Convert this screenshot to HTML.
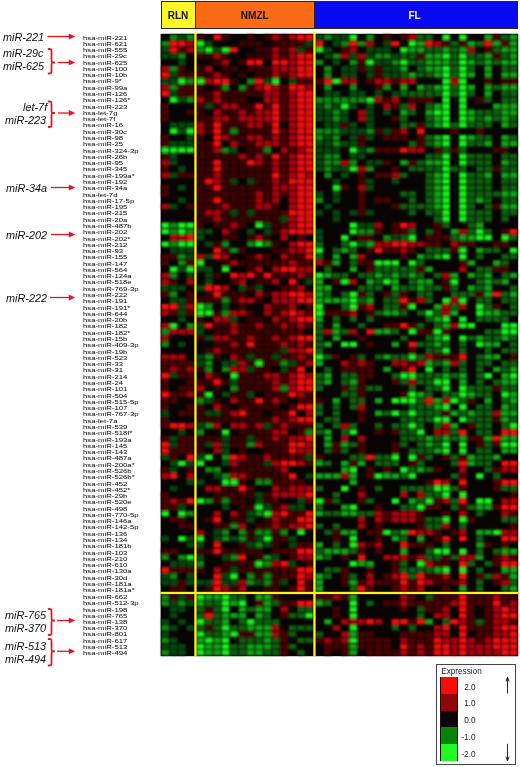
<!DOCTYPE html>
<html><head><meta charset="utf-8"><title>Heatmap</title>
<style>
html,body{margin:0;padding:0;background:#fff;}
body{width:520px;height:767px;position:relative;overflow:hidden;font-family:"Liberation Sans",sans-serif;}
.l{position:absolute;left:82.8px;font-size:5.6px;line-height:8px;height:8px;color:#000;white-space:nowrap;transform:scaleX(1.385);transform-origin:0 0}
.it{position:absolute;font-style:italic;transform:scaleX(0.955);transform-origin:0 0;font-size:11.4px;line-height:15px;height:15px;color:#111;white-space:nowrap}
.hdr{position:absolute;top:1.2px;height:27.5px;border:1px solid #33240c;border-bottom-width:1.3px;box-sizing:border-box;font-weight:bold;font-size:10px;line-height:27.4px;text-align:center;color:#111}
.lg{position:absolute;left:436.3px;top:664.2px;width:79.3px;height:100.8px;border:1px solid #444;box-sizing:border-box;background:transparent}
.lt{position:absolute;font-size:8.2px;line-height:10px;color:#222;white-space:nowrap}
.sw{position:absolute;left:440.8px;width:16.7px;height:16.75px}
</style></head><body>
<div class="hdr" style="left:160.5px;width:35px;background:#fbf82a">RLN</div>
<div class="hdr" style="left:194.5px;width:120.5px;background:#fb6a14">NMZL</div>
<div class="hdr" style="left:314px;width:204px;background:#0a0af2;color:#fff"><span style="position:absolute;left:93.5px;top:0">FL</span></div>
<svg width="520" height="767" viewBox="0 0 520 767" style="position:absolute;left:0;top:0"><defs><filter id="b" x="-1%" y="-1%" width="102%" height="102%"><feGaussianBlur stdDeviation="0.8"/></filter></defs><rect x="160.6" y="33.8" width="357.6" height="622.4" fill="#080404"/><g filter="url(#b)"><path fill="#0b8c10" d="M169.9,34.6h7.4v5.4h-7.4zM186.6,34.6h7.4v5.4h-7.4zM324.2,34.6h7.4v5.4h-7.4zM366.4,34.6h7.4v5.4h-7.4zM161.5,40.9h7.4v5.4h-7.4zM341.1,40.9h7.4v5.4h-7.4zM358.0,40.9h7.4v5.4h-7.4zM196.8,47.2h7.4v5.4h-7.4zM178.2,53.4h7.4v5.4h-7.4zM332.7,53.4h7.4v5.4h-7.4zM374.9,53.4h7.4v5.4h-7.4zM383.3,53.4h7.4v5.4h-7.4zM315.8,59.7h7.4v5.4h-7.4zM349.6,59.7h7.4v5.4h-7.4zM391.7,59.7h7.4v5.4h-7.4zM169.9,66.0h7.4v5.4h-7.4zM324.2,66.0h7.4v5.4h-7.4zM324.2,72.2h7.4v5.4h-7.4zM186.6,78.5h7.4v5.4h-7.4zM247.0,78.5h7.4v5.4h-7.4zM169.9,84.8h7.4v5.4h-7.4zM221.9,84.8h7.4v5.4h-7.4zM238.7,84.8h7.4v5.4h-7.4zM324.2,84.8h7.4v5.4h-7.4zM349.6,84.8h7.4v5.4h-7.4zM383.3,84.8h7.4v5.4h-7.4zM186.6,97.3h7.4v5.4h-7.4zM315.8,97.3h7.4v5.4h-7.4zM324.2,97.3h7.4v5.4h-7.4zM332.7,97.3h7.4v5.4h-7.4zM341.1,97.3h7.4v5.4h-7.4zM349.6,97.3h7.4v5.4h-7.4zM358.0,97.3h7.4v5.4h-7.4zM324.2,103.5h7.4v5.4h-7.4zM332.7,109.8h7.4v5.4h-7.4zM332.7,116.1h7.4v5.4h-7.4zM230.3,128.6h7.4v5.4h-7.4zM315.8,128.6h7.4v5.4h-7.4zM324.2,128.6h7.4v5.4h-7.4zM332.7,128.6h7.4v5.4h-7.4zM366.4,128.6h7.4v5.4h-7.4zM315.8,134.9h7.4v5.4h-7.4zM332.7,134.9h7.4v5.4h-7.4zM332.7,141.1h7.4v5.4h-7.4zM221.9,147.4h7.4v5.4h-7.4zM263.8,147.4h7.4v5.4h-7.4zM366.4,147.4h7.4v5.4h-7.4zM324.2,153.7h7.4v5.4h-7.4zM332.7,153.7h7.4v5.4h-7.4zM324.2,159.9h7.4v5.4h-7.4zM332.7,159.9h7.4v5.4h-7.4zM349.6,159.9h7.4v5.4h-7.4zM324.2,166.2h7.4v5.4h-7.4zM366.4,166.2h7.4v5.4h-7.4zM324.2,172.5h7.4v5.4h-7.4zM315.8,197.5h7.4v5.4h-7.4zM169.9,222.6h7.4v5.4h-7.4zM169.9,228.9h7.4v5.4h-7.4zM186.6,228.9h7.4v5.4h-7.4zM358.0,228.9h7.4v5.4h-7.4zM366.4,228.9h7.4v5.4h-7.4zM383.3,235.1h7.4v5.4h-7.4zM169.9,241.4h7.4v5.4h-7.4zM221.9,241.4h7.4v5.4h-7.4zM247.0,241.4h7.4v5.4h-7.4zM263.8,241.4h7.4v5.4h-7.4zM230.3,247.7h7.4v5.4h-7.4zM178.2,253.9h7.4v5.4h-7.4zM178.2,260.2h7.4v5.4h-7.4zM169.9,272.7h7.4v5.4h-7.4zM169.9,291.5h7.4v5.4h-7.4zM221.9,297.8h7.4v5.4h-7.4zM205.2,304.1h7.4v5.4h-7.4zM221.9,310.3h7.4v5.4h-7.4zM186.6,322.9h7.4v5.4h-7.4zM161.5,329.1h7.4v5.4h-7.4zM161.5,341.7h7.4v5.4h-7.4zM205.2,354.2h7.4v5.4h-7.4zM205.2,360.5h7.4v5.4h-7.4zM280.5,360.5h7.4v5.4h-7.4zM205.2,366.7h7.4v5.4h-7.4zM221.9,366.7h7.4v5.4h-7.4zM230.3,385.5h7.4v5.4h-7.4zM280.5,385.5h7.4v5.4h-7.4zM196.8,398.1h7.4v5.4h-7.4zM205.2,423.1h7.4v5.4h-7.4zM196.8,429.4h7.4v5.4h-7.4zM305.6,429.4h7.4v5.4h-7.4zM247.0,441.9h7.4v5.4h-7.4zM221.9,454.5h7.4v5.4h-7.4zM205.2,467.0h7.4v5.4h-7.4zM213.5,467.0h7.4v5.4h-7.4zM221.9,473.3h7.4v5.4h-7.4zM255.4,479.5h7.4v5.4h-7.4zM263.8,479.5h7.4v5.4h-7.4zM205.2,498.3h7.4v5.4h-7.4zM221.9,498.3h7.4v5.4h-7.4zM186.6,510.9h7.4v5.4h-7.4zM255.4,510.9h7.4v5.4h-7.4zM230.3,523.4h7.4v5.4h-7.4zM221.9,529.7h7.4v5.4h-7.4zM238.7,529.7h7.4v5.4h-7.4zM255.4,529.7h7.4v5.4h-7.4zM263.8,529.7h7.4v5.4h-7.4zM280.5,529.7h7.4v5.4h-7.4zM221.9,535.9h7.4v5.4h-7.4zM238.7,535.9h7.4v5.4h-7.4zM255.4,542.2h7.4v5.4h-7.4zM161.5,554.7h7.4v5.4h-7.4zM178.2,554.7h7.4v5.4h-7.4zM230.3,554.7h7.4v5.4h-7.4zM263.8,554.7h7.4v5.4h-7.4zM196.8,561.0h7.4v5.4h-7.4zM263.8,561.0h7.4v5.4h-7.4zM169.9,573.5h7.4v5.4h-7.4zM247.0,573.5h7.4v5.4h-7.4zM263.8,573.5h7.4v5.4h-7.4zM247.0,579.8h7.4v5.4h-7.4zM263.8,579.8h7.4v5.4h-7.4zM161.5,594.4h7.4v5.3h-7.4zM161.5,600.6h7.4v5.3h-7.4zM178.2,600.6h7.4v5.3h-7.4zM161.5,625.3h7.4v5.3h-7.4zM161.5,637.7h7.4v5.3h-7.4zM161.5,650.0h7.4v5.3h-7.4z"/><path fill="#054a08" d="M178.2,34.6h7.4v5.4h-7.4zM315.8,34.6h7.4v5.4h-7.4zM332.7,34.6h7.4v5.4h-7.4zM341.1,34.6h7.4v5.4h-7.4zM205.2,40.9h7.4v5.4h-7.4zM305.6,40.9h7.4v5.4h-7.4zM332.7,40.9h7.4v5.4h-7.4zM383.3,40.9h7.4v5.4h-7.4zM161.5,47.2h7.4v5.4h-7.4zM213.5,47.2h7.4v5.4h-7.4zM297.3,47.2h7.4v5.4h-7.4zM324.2,47.2h7.4v5.4h-7.4zM366.4,47.2h7.4v5.4h-7.4zM374.9,47.2h7.4v5.4h-7.4zM383.3,47.2h7.4v5.4h-7.4zM161.5,53.4h7.4v5.4h-7.4zM169.9,53.4h7.4v5.4h-7.4zM324.2,53.4h7.4v5.4h-7.4zM349.6,53.4h7.4v5.4h-7.4zM366.4,53.4h7.4v5.4h-7.4zM391.7,53.4h7.4v5.4h-7.4zM178.2,59.7h7.4v5.4h-7.4zM332.7,59.7h7.4v5.4h-7.4zM374.9,59.7h7.4v5.4h-7.4zM383.3,59.7h7.4v5.4h-7.4zM341.1,66.0h7.4v5.4h-7.4zM349.6,66.0h7.4v5.4h-7.4zM366.4,66.0h7.4v5.4h-7.4zM383.3,66.0h7.4v5.4h-7.4zM391.7,66.0h7.4v5.4h-7.4zM169.9,72.2h7.4v5.4h-7.4zM341.1,72.2h7.4v5.4h-7.4zM349.6,72.2h7.4v5.4h-7.4zM366.4,72.2h7.4v5.4h-7.4zM383.3,72.2h7.4v5.4h-7.4zM391.7,72.2h7.4v5.4h-7.4zM161.5,78.5h7.4v5.4h-7.4zM169.9,78.5h7.4v5.4h-7.4zM263.8,78.5h7.4v5.4h-7.4zM288.9,78.5h7.4v5.4h-7.4zM169.9,91.0h7.4v5.4h-7.4zM324.2,91.0h7.4v5.4h-7.4zM332.7,91.0h7.4v5.4h-7.4zM349.6,91.0h7.4v5.4h-7.4zM358.0,91.0h7.4v5.4h-7.4zM374.9,91.0h7.4v5.4h-7.4zM391.7,91.0h7.4v5.4h-7.4zM178.2,97.3h7.4v5.4h-7.4zM205.2,103.5h7.4v5.4h-7.4zM315.8,103.5h7.4v5.4h-7.4zM332.7,103.5h7.4v5.4h-7.4zM349.6,103.5h7.4v5.4h-7.4zM366.4,103.5h7.4v5.4h-7.4zM315.8,109.8h7.4v5.4h-7.4zM324.2,109.8h7.4v5.4h-7.4zM341.1,109.8h7.4v5.4h-7.4zM366.4,109.8h7.4v5.4h-7.4zM383.3,109.8h7.4v5.4h-7.4zM315.8,116.1h7.4v5.4h-7.4zM324.2,116.1h7.4v5.4h-7.4zM341.1,116.1h7.4v5.4h-7.4zM366.4,116.1h7.4v5.4h-7.4zM169.9,122.3h7.4v5.4h-7.4zM178.2,122.3h7.4v5.4h-7.4zM186.6,122.3h7.4v5.4h-7.4zM324.2,122.3h7.4v5.4h-7.4zM332.7,122.3h7.4v5.4h-7.4zM349.6,122.3h7.4v5.4h-7.4zM366.4,122.3h7.4v5.4h-7.4zM178.2,128.6h7.4v5.4h-7.4zM341.1,128.6h7.4v5.4h-7.4zM349.6,128.6h7.4v5.4h-7.4zM358.0,128.6h7.4v5.4h-7.4zM383.3,128.6h7.4v5.4h-7.4zM186.6,134.9h7.4v5.4h-7.4zM324.2,134.9h7.4v5.4h-7.4zM349.6,134.9h7.4v5.4h-7.4zM366.4,134.9h7.4v5.4h-7.4zM169.9,141.1h7.4v5.4h-7.4zM178.2,141.1h7.4v5.4h-7.4zM186.6,141.1h7.4v5.4h-7.4zM315.8,141.1h7.4v5.4h-7.4zM324.2,141.1h7.4v5.4h-7.4zM341.1,141.1h7.4v5.4h-7.4zM349.6,141.1h7.4v5.4h-7.4zM230.3,147.4h7.4v5.4h-7.4zM315.8,147.4h7.4v5.4h-7.4zM324.2,147.4h7.4v5.4h-7.4zM332.7,147.4h7.4v5.4h-7.4zM358.0,147.4h7.4v5.4h-7.4zM169.9,153.7h7.4v5.4h-7.4zM315.8,153.7h7.4v5.4h-7.4zM349.6,153.7h7.4v5.4h-7.4zM358.0,153.7h7.4v5.4h-7.4zM169.9,159.9h7.4v5.4h-7.4zM315.8,159.9h7.4v5.4h-7.4zM366.4,159.9h7.4v5.4h-7.4zM374.9,159.9h7.4v5.4h-7.4zM178.2,166.2h7.4v5.4h-7.4zM315.8,166.2h7.4v5.4h-7.4zM332.7,166.2h7.4v5.4h-7.4zM341.1,166.2h7.4v5.4h-7.4zM169.9,172.5h7.4v5.4h-7.4zM341.1,172.5h7.4v5.4h-7.4zM230.3,178.7h7.4v5.4h-7.4zM247.0,178.7h7.4v5.4h-7.4zM332.7,178.7h7.4v5.4h-7.4zM366.4,178.7h7.4v5.4h-7.4zM391.7,178.7h7.4v5.4h-7.4zM178.2,185.0h7.4v5.4h-7.4zM366.4,185.0h7.4v5.4h-7.4zM315.8,191.3h7.4v5.4h-7.4zM332.7,191.3h7.4v5.4h-7.4zM178.2,197.5h7.4v5.4h-7.4zM332.7,197.5h7.4v5.4h-7.4zM169.9,203.8h7.4v5.4h-7.4zM324.2,203.8h7.4v5.4h-7.4zM230.3,210.1h7.4v5.4h-7.4zM247.0,210.1h7.4v5.4h-7.4zM315.8,210.1h7.4v5.4h-7.4zM332.7,210.1h7.4v5.4h-7.4zM349.6,210.1h7.4v5.4h-7.4zM366.4,210.1h7.4v5.4h-7.4zM280.5,216.3h7.4v5.4h-7.4zM332.7,216.3h7.4v5.4h-7.4zM263.8,222.6h7.4v5.4h-7.4zM358.0,222.6h7.4v5.4h-7.4zM366.4,222.6h7.4v5.4h-7.4zM196.8,228.9h7.4v5.4h-7.4zM205.2,228.9h7.4v5.4h-7.4zM247.0,228.9h7.4v5.4h-7.4zM263.8,228.9h7.4v5.4h-7.4zM315.8,228.9h7.4v5.4h-7.4zM196.8,235.1h7.4v5.4h-7.4zM315.8,235.1h7.4v5.4h-7.4zM391.7,235.1h7.4v5.4h-7.4zM205.2,241.4h7.4v5.4h-7.4zM169.9,247.7h7.4v5.4h-7.4zM178.2,247.7h7.4v5.4h-7.4zM186.6,247.7h7.4v5.4h-7.4zM186.6,253.9h7.4v5.4h-7.4zM205.2,253.9h7.4v5.4h-7.4zM178.2,266.5h7.4v5.4h-7.4zM196.8,266.5h7.4v5.4h-7.4zM205.2,266.5h7.4v5.4h-7.4zM186.6,272.7h7.4v5.4h-7.4zM205.2,272.7h7.4v5.4h-7.4zM205.2,279.0h7.4v5.4h-7.4zM305.6,279.0h7.4v5.4h-7.4zM161.5,285.3h7.4v5.4h-7.4zM169.9,285.3h7.4v5.4h-7.4zM178.2,285.3h7.4v5.4h-7.4zM196.8,285.3h7.4v5.4h-7.4zM238.7,285.3h7.4v5.4h-7.4zM255.4,285.3h7.4v5.4h-7.4zM169.9,297.8h7.4v5.4h-7.4zM178.2,297.8h7.4v5.4h-7.4zM178.2,304.1h7.4v5.4h-7.4zM221.9,304.1h7.4v5.4h-7.4zM178.2,310.3h7.4v5.4h-7.4zM178.2,316.6h7.4v5.4h-7.4zM230.3,316.6h7.4v5.4h-7.4zM196.8,322.9h7.4v5.4h-7.4zM196.8,329.1h7.4v5.4h-7.4zM205.2,335.4h7.4v5.4h-7.4zM178.2,341.7h7.4v5.4h-7.4zM280.5,347.9h7.4v5.4h-7.4zM196.8,354.2h7.4v5.4h-7.4zM247.0,354.2h7.4v5.4h-7.4zM272.1,354.2h7.4v5.4h-7.4zM196.8,360.5h7.4v5.4h-7.4zM221.9,360.5h7.4v5.4h-7.4zM230.3,360.5h7.4v5.4h-7.4zM288.9,360.5h7.4v5.4h-7.4zM247.0,366.7h7.4v5.4h-7.4zM280.5,366.7h7.4v5.4h-7.4zM169.9,373.0h7.4v5.4h-7.4zM230.3,379.3h7.4v5.4h-7.4zM221.9,391.8h7.4v5.4h-7.4zM247.0,391.8h7.4v5.4h-7.4zM205.2,398.1h7.4v5.4h-7.4zM161.5,410.6h7.4v5.4h-7.4zM205.2,410.6h7.4v5.4h-7.4zM213.5,410.6h7.4v5.4h-7.4zM196.8,423.1h7.4v5.4h-7.4zM263.8,423.1h7.4v5.4h-7.4zM178.2,429.4h7.4v5.4h-7.4zM169.9,435.7h7.4v5.4h-7.4zM221.9,435.7h7.4v5.4h-7.4zM247.0,435.7h7.4v5.4h-7.4zM169.9,441.9h7.4v5.4h-7.4zM205.2,441.9h7.4v5.4h-7.4zM221.9,441.9h7.4v5.4h-7.4zM221.9,448.2h7.4v5.4h-7.4zM161.5,454.5h7.4v5.4h-7.4zM196.8,454.5h7.4v5.4h-7.4zM305.6,454.5h7.4v5.4h-7.4zM169.9,460.7h7.4v5.4h-7.4zM186.6,460.7h7.4v5.4h-7.4zM221.9,460.7h7.4v5.4h-7.4zM263.8,460.7h7.4v5.4h-7.4zM169.9,467.0h7.4v5.4h-7.4zM213.5,473.3h7.4v5.4h-7.4zM305.6,473.3h7.4v5.4h-7.4zM186.6,479.5h7.4v5.4h-7.4zM196.8,479.5h7.4v5.4h-7.4zM169.9,485.8h7.4v5.4h-7.4zM255.4,492.1h7.4v5.4h-7.4zM255.4,498.3h7.4v5.4h-7.4zM297.3,498.3h7.4v5.4h-7.4zM178.2,504.6h7.4v5.4h-7.4zM221.9,504.6h7.4v5.4h-7.4zM263.8,504.6h7.4v5.4h-7.4zM288.9,504.6h7.4v5.4h-7.4zM297.3,504.6h7.4v5.4h-7.4zM247.0,510.9h7.4v5.4h-7.4zM247.0,517.1h7.4v5.4h-7.4zM213.5,529.7h7.4v5.4h-7.4zM161.5,535.9h7.4v5.4h-7.4zM186.6,535.9h7.4v5.4h-7.4zM213.5,535.9h7.4v5.4h-7.4zM230.3,535.9h7.4v5.4h-7.4zM255.4,535.9h7.4v5.4h-7.4zM288.9,535.9h7.4v5.4h-7.4zM186.6,542.2h7.4v5.4h-7.4zM196.8,542.2h7.4v5.4h-7.4zM247.0,542.2h7.4v5.4h-7.4zM263.8,542.2h7.4v5.4h-7.4zM288.9,542.2h7.4v5.4h-7.4zM196.8,554.7h7.4v5.4h-7.4zM221.9,554.7h7.4v5.4h-7.4zM272.1,554.7h7.4v5.4h-7.4zM169.9,561.0h7.4v5.4h-7.4zM178.2,561.0h7.4v5.4h-7.4zM186.6,561.0h7.4v5.4h-7.4zM288.9,561.0h7.4v5.4h-7.4zM230.3,567.3h7.4v5.4h-7.4zM161.5,573.5h7.4v5.4h-7.4zM186.6,573.5h7.4v5.4h-7.4zM221.9,573.5h7.4v5.4h-7.4zM161.5,579.8h7.4v5.4h-7.4zM169.9,579.8h7.4v5.4h-7.4zM186.6,579.8h7.4v5.4h-7.4zM196.8,579.8h7.4v5.4h-7.4zM205.2,579.8h7.4v5.4h-7.4zM221.9,579.8h7.4v5.4h-7.4zM230.3,579.8h7.4v5.4h-7.4zM255.4,579.8h7.4v5.4h-7.4zM280.5,579.8h7.4v5.4h-7.4zM178.2,594.4h7.4v5.3h-7.4zM169.9,600.6h7.4v5.3h-7.4zM186.6,600.6h7.4v5.3h-7.4zM169.9,606.8h7.4v5.3h-7.4zM178.2,606.8h7.4v5.3h-7.4zM169.9,613.0h7.4v5.3h-7.4zM161.5,619.1h7.4v5.3h-7.4zM178.2,619.1h7.4v5.3h-7.4zM169.9,625.3h7.4v5.3h-7.4zM186.6,625.3h7.4v5.3h-7.4zM161.5,631.5h7.4v5.3h-7.4zM169.9,637.7h7.4v5.3h-7.4zM161.5,643.9h7.4v5.3h-7.4zM169.9,643.9h7.4v5.3h-7.4zM178.2,643.9h7.4v5.3h-7.4zM169.9,650.0h7.4v5.3h-7.4zM178.2,650.0h7.4v5.3h-7.4z"/><path fill="#3c0204" d="M196.8,34.6h7.4v5.4h-7.4zM221.9,34.6h7.4v5.4h-7.4zM247.0,34.6h7.4v5.4h-7.4zM263.8,34.6h7.4v5.4h-7.4zM238.7,40.9h7.4v5.4h-7.4zM247.0,40.9h7.4v5.4h-7.4zM255.4,40.9h7.4v5.4h-7.4zM272.1,40.9h7.4v5.4h-7.4zM255.4,47.2h7.4v5.4h-7.4zM263.8,47.2h7.4v5.4h-7.4zM196.8,53.4h7.4v5.4h-7.4zM205.2,53.4h7.4v5.4h-7.4zM221.9,53.4h7.4v5.4h-7.4zM247.0,53.4h7.4v5.4h-7.4zM255.4,53.4h7.4v5.4h-7.4zM263.8,53.4h7.4v5.4h-7.4zM213.5,59.7h7.4v5.4h-7.4zM238.7,59.7h7.4v5.4h-7.4zM196.8,66.0h7.4v5.4h-7.4zM221.9,66.0h7.4v5.4h-7.4zM230.3,66.0h7.4v5.4h-7.4zM247.0,66.0h7.4v5.4h-7.4zM255.4,66.0h7.4v5.4h-7.4zM263.8,66.0h7.4v5.4h-7.4zM196.8,72.2h7.4v5.4h-7.4zM205.2,72.2h7.4v5.4h-7.4zM221.9,72.2h7.4v5.4h-7.4zM238.7,72.2h7.4v5.4h-7.4zM255.4,72.2h7.4v5.4h-7.4zM263.8,72.2h7.4v5.4h-7.4zM230.3,78.5h7.4v5.4h-7.4zM196.8,84.8h7.4v5.4h-7.4zM213.5,84.8h7.4v5.4h-7.4zM247.0,84.8h7.4v5.4h-7.4zM196.8,91.0h7.4v5.4h-7.4zM205.2,91.0h7.4v5.4h-7.4zM221.9,91.0h7.4v5.4h-7.4zM230.3,91.0h7.4v5.4h-7.4zM238.7,91.0h7.4v5.4h-7.4zM247.0,91.0h7.4v5.4h-7.4zM255.4,91.0h7.4v5.4h-7.4zM205.2,97.3h7.4v5.4h-7.4zM221.9,97.3h7.4v5.4h-7.4zM230.3,97.3h7.4v5.4h-7.4zM238.7,97.3h7.4v5.4h-7.4zM196.8,103.5h7.4v5.4h-7.4zM213.5,103.5h7.4v5.4h-7.4zM238.7,103.5h7.4v5.4h-7.4zM247.0,103.5h7.4v5.4h-7.4zM263.8,103.5h7.4v5.4h-7.4zM196.8,109.8h7.4v5.4h-7.4zM221.9,109.8h7.4v5.4h-7.4zM230.3,109.8h7.4v5.4h-7.4zM247.0,109.8h7.4v5.4h-7.4zM196.8,116.1h7.4v5.4h-7.4zM205.2,116.1h7.4v5.4h-7.4zM230.3,116.1h7.4v5.4h-7.4zM205.2,122.3h7.4v5.4h-7.4zM221.9,122.3h7.4v5.4h-7.4zM230.3,122.3h7.4v5.4h-7.4zM238.7,122.3h7.4v5.4h-7.4zM263.8,122.3h7.4v5.4h-7.4zM205.2,128.6h7.4v5.4h-7.4zM221.9,128.6h7.4v5.4h-7.4zM238.7,128.6h7.4v5.4h-7.4zM247.0,128.6h7.4v5.4h-7.4zM255.4,128.6h7.4v5.4h-7.4zM263.8,128.6h7.4v5.4h-7.4zM196.8,134.9h7.4v5.4h-7.4zM230.3,134.9h7.4v5.4h-7.4zM238.7,134.9h7.4v5.4h-7.4zM263.8,134.9h7.4v5.4h-7.4zM196.8,141.1h7.4v5.4h-7.4zM205.2,141.1h7.4v5.4h-7.4zM238.7,141.1h7.4v5.4h-7.4zM247.0,141.1h7.4v5.4h-7.4zM196.8,147.4h7.4v5.4h-7.4zM205.2,147.4h7.4v5.4h-7.4zM247.0,147.4h7.4v5.4h-7.4zM255.4,147.4h7.4v5.4h-7.4zM196.8,153.7h7.4v5.4h-7.4zM205.2,153.7h7.4v5.4h-7.4zM213.5,153.7h7.4v5.4h-7.4zM221.9,153.7h7.4v5.4h-7.4zM230.3,153.7h7.4v5.4h-7.4zM247.0,153.7h7.4v5.4h-7.4zM263.8,153.7h7.4v5.4h-7.4zM196.8,159.9h7.4v5.4h-7.4zM205.2,159.9h7.4v5.4h-7.4zM221.9,159.9h7.4v5.4h-7.4zM230.3,159.9h7.4v5.4h-7.4zM238.7,159.9h7.4v5.4h-7.4zM263.8,159.9h7.4v5.4h-7.4zM196.8,166.2h7.4v5.4h-7.4zM205.2,166.2h7.4v5.4h-7.4zM221.9,166.2h7.4v5.4h-7.4zM230.3,166.2h7.4v5.4h-7.4zM238.7,166.2h7.4v5.4h-7.4zM247.0,166.2h7.4v5.4h-7.4zM255.4,166.2h7.4v5.4h-7.4zM263.8,166.2h7.4v5.4h-7.4zM196.8,172.5h7.4v5.4h-7.4zM205.2,172.5h7.4v5.4h-7.4zM221.9,172.5h7.4v5.4h-7.4zM230.3,172.5h7.4v5.4h-7.4zM238.7,172.5h7.4v5.4h-7.4zM247.0,172.5h7.4v5.4h-7.4zM255.4,172.5h7.4v5.4h-7.4zM263.8,172.5h7.4v5.4h-7.4zM196.8,178.7h7.4v5.4h-7.4zM221.9,178.7h7.4v5.4h-7.4zM255.4,178.7h7.4v5.4h-7.4zM263.8,178.7h7.4v5.4h-7.4zM196.8,185.0h7.4v5.4h-7.4zM205.2,185.0h7.4v5.4h-7.4zM221.9,185.0h7.4v5.4h-7.4zM230.3,185.0h7.4v5.4h-7.4zM238.7,185.0h7.4v5.4h-7.4zM247.0,185.0h7.4v5.4h-7.4zM255.4,185.0h7.4v5.4h-7.4zM263.8,185.0h7.4v5.4h-7.4zM196.8,191.3h7.4v5.4h-7.4zM205.2,191.3h7.4v5.4h-7.4zM213.5,191.3h7.4v5.4h-7.4zM221.9,191.3h7.4v5.4h-7.4zM230.3,191.3h7.4v5.4h-7.4zM238.7,191.3h7.4v5.4h-7.4zM247.0,191.3h7.4v5.4h-7.4zM263.8,191.3h7.4v5.4h-7.4zM196.8,197.5h7.4v5.4h-7.4zM205.2,197.5h7.4v5.4h-7.4zM221.9,197.5h7.4v5.4h-7.4zM230.3,197.5h7.4v5.4h-7.4zM238.7,197.5h7.4v5.4h-7.4zM247.0,197.5h7.4v5.4h-7.4zM263.8,197.5h7.4v5.4h-7.4zM196.8,203.8h7.4v5.4h-7.4zM205.2,203.8h7.4v5.4h-7.4zM213.5,203.8h7.4v5.4h-7.4zM230.3,203.8h7.4v5.4h-7.4zM238.7,203.8h7.4v5.4h-7.4zM247.0,203.8h7.4v5.4h-7.4zM272.1,203.8h7.4v5.4h-7.4zM196.8,210.1h7.4v5.4h-7.4zM221.9,210.1h7.4v5.4h-7.4zM238.7,210.1h7.4v5.4h-7.4zM255.4,210.1h7.4v5.4h-7.4zM263.8,210.1h7.4v5.4h-7.4zM272.1,210.1h7.4v5.4h-7.4zM196.8,216.3h7.4v5.4h-7.4zM205.2,216.3h7.4v5.4h-7.4zM221.9,216.3h7.4v5.4h-7.4zM230.3,216.3h7.4v5.4h-7.4zM238.7,216.3h7.4v5.4h-7.4zM247.0,216.3h7.4v5.4h-7.4zM255.4,216.3h7.4v5.4h-7.4zM263.8,216.3h7.4v5.4h-7.4zM272.1,216.3h7.4v5.4h-7.4zM196.8,222.6h7.4v5.4h-7.4zM213.5,222.6h7.4v5.4h-7.4zM221.9,222.6h7.4v5.4h-7.4zM238.7,222.6h7.4v5.4h-7.4zM272.1,222.6h7.4v5.4h-7.4zM230.3,228.9h7.4v5.4h-7.4zM272.1,228.9h7.4v5.4h-7.4zM221.9,235.1h7.4v5.4h-7.4zM230.3,235.1h7.4v5.4h-7.4zM247.0,235.1h7.4v5.4h-7.4zM263.8,235.1h7.4v5.4h-7.4zM213.5,241.4h7.4v5.4h-7.4zM272.1,241.4h7.4v5.4h-7.4zM221.9,247.7h7.4v5.4h-7.4zM238.7,247.7h7.4v5.4h-7.4zM272.1,247.7h7.4v5.4h-7.4zM247.0,253.9h7.4v5.4h-7.4zM263.8,253.9h7.4v5.4h-7.4zM221.9,260.2h7.4v5.4h-7.4zM238.7,260.2h7.4v5.4h-7.4zM247.0,260.2h7.4v5.4h-7.4zM255.4,260.2h7.4v5.4h-7.4zM263.8,260.2h7.4v5.4h-7.4zM272.1,260.2h7.4v5.4h-7.4zM247.0,266.5h7.4v5.4h-7.4zM213.5,272.7h7.4v5.4h-7.4zM255.4,272.7h7.4v5.4h-7.4zM272.1,272.7h7.4v5.4h-7.4zM230.3,279.0h7.4v5.4h-7.4zM255.4,279.0h7.4v5.4h-7.4zM263.8,279.0h7.4v5.4h-7.4zM247.0,285.3h7.4v5.4h-7.4zM205.2,291.5h7.4v5.4h-7.4zM221.9,291.5h7.4v5.4h-7.4zM230.3,291.5h7.4v5.4h-7.4zM238.7,291.5h7.4v5.4h-7.4zM263.8,291.5h7.4v5.4h-7.4zM196.8,297.8h7.4v5.4h-7.4zM205.2,297.8h7.4v5.4h-7.4zM213.5,297.8h7.4v5.4h-7.4zM230.3,297.8h7.4v5.4h-7.4zM255.4,297.8h7.4v5.4h-7.4zM238.7,304.1h7.4v5.4h-7.4zM272.1,304.1h7.4v5.4h-7.4zM213.5,310.3h7.4v5.4h-7.4zM247.0,310.3h7.4v5.4h-7.4zM272.1,310.3h7.4v5.4h-7.4zM196.8,316.6h7.4v5.4h-7.4zM247.0,316.6h7.4v5.4h-7.4zM255.4,316.6h7.4v5.4h-7.4zM213.5,322.9h7.4v5.4h-7.4zM221.9,322.9h7.4v5.4h-7.4zM238.7,322.9h7.4v5.4h-7.4zM247.0,322.9h7.4v5.4h-7.4zM263.8,322.9h7.4v5.4h-7.4zM272.1,322.9h7.4v5.4h-7.4zM213.5,329.1h7.4v5.4h-7.4zM221.9,329.1h7.4v5.4h-7.4zM238.7,329.1h7.4v5.4h-7.4zM247.0,329.1h7.4v5.4h-7.4zM255.4,329.1h7.4v5.4h-7.4zM263.8,329.1h7.4v5.4h-7.4zM272.1,329.1h7.4v5.4h-7.4zM196.8,335.4h7.4v5.4h-7.4zM230.3,335.4h7.4v5.4h-7.4zM238.7,335.4h7.4v5.4h-7.4zM255.4,335.4h7.4v5.4h-7.4zM263.8,335.4h7.4v5.4h-7.4zM213.5,341.7h7.4v5.4h-7.4zM221.9,341.7h7.4v5.4h-7.4zM238.7,341.7h7.4v5.4h-7.4zM255.4,341.7h7.4v5.4h-7.4zM263.8,341.7h7.4v5.4h-7.4zM272.1,341.7h7.4v5.4h-7.4zM205.2,347.9h7.4v5.4h-7.4zM221.9,347.9h7.4v5.4h-7.4zM230.3,347.9h7.4v5.4h-7.4zM238.7,347.9h7.4v5.4h-7.4zM247.0,347.9h7.4v5.4h-7.4zM255.4,347.9h7.4v5.4h-7.4zM263.8,347.9h7.4v5.4h-7.4zM272.1,347.9h7.4v5.4h-7.4zM213.5,354.2h7.4v5.4h-7.4zM238.7,354.2h7.4v5.4h-7.4zM255.4,354.2h7.4v5.4h-7.4zM263.8,354.2h7.4v5.4h-7.4zM247.0,360.5h7.4v5.4h-7.4zM263.8,360.5h7.4v5.4h-7.4zM272.1,360.5h7.4v5.4h-7.4zM196.8,366.7h7.4v5.4h-7.4zM255.4,366.7h7.4v5.4h-7.4zM263.8,366.7h7.4v5.4h-7.4zM213.5,373.0h7.4v5.4h-7.4zM238.7,373.0h7.4v5.4h-7.4zM247.0,373.0h7.4v5.4h-7.4zM255.4,373.0h7.4v5.4h-7.4zM196.8,379.3h7.4v5.4h-7.4zM205.2,379.3h7.4v5.4h-7.4zM221.9,379.3h7.4v5.4h-7.4zM238.7,379.3h7.4v5.4h-7.4zM247.0,379.3h7.4v5.4h-7.4zM255.4,379.3h7.4v5.4h-7.4zM263.8,379.3h7.4v5.4h-7.4zM213.5,385.5h7.4v5.4h-7.4zM238.7,385.5h7.4v5.4h-7.4zM247.0,385.5h7.4v5.4h-7.4zM255.4,385.5h7.4v5.4h-7.4zM263.8,385.5h7.4v5.4h-7.4zM196.8,391.8h7.4v5.4h-7.4zM230.3,391.8h7.4v5.4h-7.4zM238.7,391.8h7.4v5.4h-7.4zM263.8,391.8h7.4v5.4h-7.4zM272.1,391.8h7.4v5.4h-7.4zM213.5,398.1h7.4v5.4h-7.4zM238.7,398.1h7.4v5.4h-7.4zM247.0,398.1h7.4v5.4h-7.4zM263.8,398.1h7.4v5.4h-7.4zM196.8,404.3h7.4v5.4h-7.4zM221.9,404.3h7.4v5.4h-7.4zM238.7,404.3h7.4v5.4h-7.4zM247.0,404.3h7.4v5.4h-7.4zM255.4,404.3h7.4v5.4h-7.4zM263.8,404.3h7.4v5.4h-7.4zM272.1,404.3h7.4v5.4h-7.4zM196.8,410.6h7.4v5.4h-7.4zM221.9,410.6h7.4v5.4h-7.4zM247.0,410.6h7.4v5.4h-7.4zM255.4,410.6h7.4v5.4h-7.4zM272.1,410.6h7.4v5.4h-7.4zM196.8,416.9h7.4v5.4h-7.4zM205.2,416.9h7.4v5.4h-7.4zM213.5,416.9h7.4v5.4h-7.4zM221.9,416.9h7.4v5.4h-7.4zM230.3,416.9h7.4v5.4h-7.4zM238.7,416.9h7.4v5.4h-7.4zM247.0,416.9h7.4v5.4h-7.4zM255.4,416.9h7.4v5.4h-7.4zM263.8,416.9h7.4v5.4h-7.4zM247.0,423.1h7.4v5.4h-7.4zM272.1,423.1h7.4v5.4h-7.4zM238.7,429.4h7.4v5.4h-7.4zM247.0,429.4h7.4v5.4h-7.4zM255.4,429.4h7.4v5.4h-7.4zM263.8,429.4h7.4v5.4h-7.4zM196.8,435.7h7.4v5.4h-7.4zM205.2,435.7h7.4v5.4h-7.4zM213.5,435.7h7.4v5.4h-7.4zM230.3,435.7h7.4v5.4h-7.4zM238.7,435.7h7.4v5.4h-7.4zM255.4,435.7h7.4v5.4h-7.4zM263.8,435.7h7.4v5.4h-7.4zM196.8,441.9h7.4v5.4h-7.4zM230.3,441.9h7.4v5.4h-7.4zM238.7,441.9h7.4v5.4h-7.4zM263.8,441.9h7.4v5.4h-7.4zM272.1,441.9h7.4v5.4h-7.4zM196.8,448.2h7.4v5.4h-7.4zM238.7,448.2h7.4v5.4h-7.4zM263.8,448.2h7.4v5.4h-7.4zM272.1,448.2h7.4v5.4h-7.4zM247.0,454.5h7.4v5.4h-7.4zM255.4,454.5h7.4v5.4h-7.4zM272.1,454.5h7.4v5.4h-7.4zM238.7,460.7h7.4v5.4h-7.4zM247.0,460.7h7.4v5.4h-7.4zM255.4,460.7h7.4v5.4h-7.4zM230.3,467.0h7.4v5.4h-7.4zM238.7,467.0h7.4v5.4h-7.4zM247.0,467.0h7.4v5.4h-7.4zM255.4,467.0h7.4v5.4h-7.4zM263.8,467.0h7.4v5.4h-7.4zM272.1,467.0h7.4v5.4h-7.4zM247.0,473.3h7.4v5.4h-7.4zM255.4,473.3h7.4v5.4h-7.4zM263.8,473.3h7.4v5.4h-7.4zM272.1,473.3h7.4v5.4h-7.4zM238.7,479.5h7.4v5.4h-7.4zM272.1,479.5h7.4v5.4h-7.4zM221.9,485.8h7.4v5.4h-7.4zM230.3,485.8h7.4v5.4h-7.4zM247.0,485.8h7.4v5.4h-7.4zM213.5,492.1h7.4v5.4h-7.4zM221.9,492.1h7.4v5.4h-7.4zM230.3,492.1h7.4v5.4h-7.4zM238.7,492.1h7.4v5.4h-7.4zM247.0,492.1h7.4v5.4h-7.4zM263.8,492.1h7.4v5.4h-7.4zM213.5,498.3h7.4v5.4h-7.4zM230.3,498.3h7.4v5.4h-7.4zM238.7,498.3h7.4v5.4h-7.4zM263.8,498.3h7.4v5.4h-7.4zM272.1,498.3h7.4v5.4h-7.4zM238.7,504.6h7.4v5.4h-7.4zM247.0,504.6h7.4v5.4h-7.4zM272.1,504.6h7.4v5.4h-7.4zM238.7,510.9h7.4v5.4h-7.4zM205.2,517.1h7.4v5.4h-7.4zM230.3,517.1h7.4v5.4h-7.4zM238.7,517.1h7.4v5.4h-7.4zM263.8,517.1h7.4v5.4h-7.4zM213.5,523.4h7.4v5.4h-7.4zM221.9,523.4h7.4v5.4h-7.4zM255.4,523.4h7.4v5.4h-7.4zM263.8,523.4h7.4v5.4h-7.4zM247.0,529.7h7.4v5.4h-7.4zM272.1,529.7h7.4v5.4h-7.4zM247.0,535.9h7.4v5.4h-7.4zM272.1,535.9h7.4v5.4h-7.4zM238.7,542.2h7.4v5.4h-7.4zM272.1,542.2h7.4v5.4h-7.4zM196.8,548.5h7.4v5.4h-7.4zM205.2,548.5h7.4v5.4h-7.4zM221.9,548.5h7.4v5.4h-7.4zM230.3,548.5h7.4v5.4h-7.4zM238.7,548.5h7.4v5.4h-7.4zM247.0,548.5h7.4v5.4h-7.4zM255.4,548.5h7.4v5.4h-7.4zM272.1,548.5h7.4v5.4h-7.4zM255.4,554.7h7.4v5.4h-7.4zM221.9,561.0h7.4v5.4h-7.4zM230.3,561.0h7.4v5.4h-7.4zM238.7,561.0h7.4v5.4h-7.4zM247.0,561.0h7.4v5.4h-7.4zM196.8,567.3h7.4v5.4h-7.4zM221.9,567.3h7.4v5.4h-7.4zM238.7,567.3h7.4v5.4h-7.4zM247.0,567.3h7.4v5.4h-7.4zM255.4,567.3h7.4v5.4h-7.4zM263.8,567.3h7.4v5.4h-7.4zM272.1,567.3h7.4v5.4h-7.4zM255.4,573.5h7.4v5.4h-7.4zM272.1,573.5h7.4v5.4h-7.4zM272.1,579.8h7.4v5.4h-7.4zM205.2,586.1h7.4v5.4h-7.4zM230.3,586.1h7.4v5.4h-7.4zM263.8,586.1h7.4v5.4h-7.4zM272.1,586.1h7.4v5.4h-7.4z"/><path fill="#f80a0c" d="M213.5,34.6h7.4v5.4h-7.4zM297.3,34.6h7.4v5.4h-7.4zM305.6,34.6h7.4v5.4h-7.4zM169.9,40.9h7.4v5.4h-7.4zM178.2,40.9h7.4v5.4h-7.4zM315.8,40.9h7.4v5.4h-7.4zM349.6,40.9h7.4v5.4h-7.4zM391.7,40.9h7.4v5.4h-7.4zM425.5,40.9h7.4v5.4h-7.4zM484.5,40.9h7.4v5.4h-7.4zM169.9,47.2h7.4v5.4h-7.4zM230.3,47.2h7.4v5.4h-7.4zM297.3,53.4h7.4v5.4h-7.4zM305.6,53.4h7.4v5.4h-7.4zM247.0,59.7h7.4v5.4h-7.4zM255.4,59.7h7.4v5.4h-7.4zM272.1,59.7h7.4v5.4h-7.4zM280.5,59.7h7.4v5.4h-7.4zM297.3,59.7h7.4v5.4h-7.4zM305.6,59.7h7.4v5.4h-7.4zM297.3,66.0h7.4v5.4h-7.4zM305.6,66.0h7.4v5.4h-7.4zM161.5,72.2h7.4v5.4h-7.4zM297.3,72.2h7.4v5.4h-7.4zM305.6,72.2h7.4v5.4h-7.4zM213.5,78.5h7.4v5.4h-7.4zM221.9,78.5h7.4v5.4h-7.4zM255.4,78.5h7.4v5.4h-7.4zM324.2,78.5h7.4v5.4h-7.4zM263.8,84.8h7.4v5.4h-7.4zM288.9,84.8h7.4v5.4h-7.4zM297.3,84.8h7.4v5.4h-7.4zM161.5,91.0h7.4v5.4h-7.4zM297.3,91.0h7.4v5.4h-7.4zM305.6,91.0h7.4v5.4h-7.4zM297.3,97.3h7.4v5.4h-7.4zM305.6,97.3h7.4v5.4h-7.4zM255.4,103.5h7.4v5.4h-7.4zM272.1,103.5h7.4v5.4h-7.4zM297.3,103.5h7.4v5.4h-7.4zM305.6,103.5h7.4v5.4h-7.4zM272.1,109.8h7.4v5.4h-7.4zM297.3,109.8h7.4v5.4h-7.4zM305.6,109.8h7.4v5.4h-7.4zM272.1,116.1h7.4v5.4h-7.4zM297.3,116.1h7.4v5.4h-7.4zM305.6,116.1h7.4v5.4h-7.4zM213.5,122.3h7.4v5.4h-7.4zM272.1,122.3h7.4v5.4h-7.4zM297.3,122.3h7.4v5.4h-7.4zM305.6,122.3h7.4v5.4h-7.4zM213.5,128.6h7.4v5.4h-7.4zM272.1,128.6h7.4v5.4h-7.4zM297.3,128.6h7.4v5.4h-7.4zM305.6,128.6h7.4v5.4h-7.4zM417.0,128.6h7.4v5.4h-7.4zM213.5,134.9h7.4v5.4h-7.4zM297.3,134.9h7.4v5.4h-7.4zM305.6,134.9h7.4v5.4h-7.4zM213.5,141.1h7.4v5.4h-7.4zM297.3,141.1h7.4v5.4h-7.4zM305.6,141.1h7.4v5.4h-7.4zM305.6,147.4h7.4v5.4h-7.4zM400.2,147.4h7.4v5.4h-7.4zM272.1,153.7h7.4v5.4h-7.4zM297.3,153.7h7.4v5.4h-7.4zM305.6,153.7h7.4v5.4h-7.4zM213.5,159.9h7.4v5.4h-7.4zM247.0,159.9h7.4v5.4h-7.4zM297.3,159.9h7.4v5.4h-7.4zM305.6,159.9h7.4v5.4h-7.4zM213.5,166.2h7.4v5.4h-7.4zM297.3,166.2h7.4v5.4h-7.4zM305.6,166.2h7.4v5.4h-7.4zM272.1,172.5h7.4v5.4h-7.4zM297.3,172.5h7.4v5.4h-7.4zM205.2,178.7h7.4v5.4h-7.4zM288.9,178.7h7.4v5.4h-7.4zM297.3,178.7h7.4v5.4h-7.4zM305.6,178.7h7.4v5.4h-7.4zM213.5,185.0h7.4v5.4h-7.4zM297.3,185.0h7.4v5.4h-7.4zM305.6,185.0h7.4v5.4h-7.4zM297.3,191.3h7.4v5.4h-7.4zM305.6,191.3h7.4v5.4h-7.4zM213.5,197.5h7.4v5.4h-7.4zM297.3,197.5h7.4v5.4h-7.4zM305.6,197.5h7.4v5.4h-7.4zM297.3,203.8h7.4v5.4h-7.4zM305.6,203.8h7.4v5.4h-7.4zM288.9,210.1h7.4v5.4h-7.4zM297.3,210.1h7.4v5.4h-7.4zM305.6,210.1h7.4v5.4h-7.4zM297.3,216.3h7.4v5.4h-7.4zM305.6,216.3h7.4v5.4h-7.4zM297.3,222.6h7.4v5.4h-7.4zM305.6,222.6h7.4v5.4h-7.4zM400.2,222.6h7.4v5.4h-7.4zM288.9,228.9h7.4v5.4h-7.4zM297.3,228.9h7.4v5.4h-7.4zM305.6,228.9h7.4v5.4h-7.4zM509.9,228.9h7.4v5.4h-7.4zM186.6,235.1h7.4v5.4h-7.4zM297.3,241.4h7.4v5.4h-7.4zM305.6,241.4h7.4v5.4h-7.4zM391.7,241.4h7.4v5.4h-7.4zM400.2,241.4h7.4v5.4h-7.4zM213.5,247.7h7.4v5.4h-7.4zM305.6,247.7h7.4v5.4h-7.4zM374.9,247.7h7.4v5.4h-7.4zM213.5,253.9h7.4v5.4h-7.4zM305.6,253.9h7.4v5.4h-7.4zM280.5,266.5h7.4v5.4h-7.4zM288.9,266.5h7.4v5.4h-7.4zM230.3,272.7h7.4v5.4h-7.4zM247.0,272.7h7.4v5.4h-7.4zM263.8,272.7h7.4v5.4h-7.4zM288.9,279.0h7.4v5.4h-7.4zM205.2,285.3h7.4v5.4h-7.4zM213.5,285.3h7.4v5.4h-7.4zM213.5,291.5h7.4v5.4h-7.4zM288.9,291.5h7.4v5.4h-7.4zM297.3,291.5h7.4v5.4h-7.4zM493.0,291.5h7.4v5.4h-7.4zM297.3,297.8h7.4v5.4h-7.4zM305.6,297.8h7.4v5.4h-7.4zM400.2,297.8h7.4v5.4h-7.4zM161.5,304.1h7.4v5.4h-7.4zM169.9,304.1h7.4v5.4h-7.4zM288.9,310.3h7.4v5.4h-7.4zM297.3,316.6h7.4v5.4h-7.4zM305.6,316.6h7.4v5.4h-7.4zM205.2,322.9h7.4v5.4h-7.4zM400.2,322.9h7.4v5.4h-7.4zM366.4,329.1h7.4v5.4h-7.4zM297.3,335.4h7.4v5.4h-7.4zM305.6,335.4h7.4v5.4h-7.4zM247.0,341.7h7.4v5.4h-7.4zM408.6,341.7h7.4v5.4h-7.4zM305.6,347.9h7.4v5.4h-7.4zM459.2,354.2h7.4v5.4h-7.4zM297.3,366.7h7.4v5.4h-7.4zM408.6,366.7h7.4v5.4h-7.4zM161.5,373.0h7.4v5.4h-7.4zM297.3,373.0h7.4v5.4h-7.4zM213.5,379.3h7.4v5.4h-7.4zM297.3,379.3h7.4v5.4h-7.4zM305.6,379.3h7.4v5.4h-7.4zM297.3,385.5h7.4v5.4h-7.4zM305.6,385.5h7.4v5.4h-7.4zM161.5,391.8h7.4v5.4h-7.4zM288.9,391.8h7.4v5.4h-7.4zM255.4,398.1h7.4v5.4h-7.4zM425.5,398.1h7.4v5.4h-7.4zM297.3,404.3h7.4v5.4h-7.4zM305.6,404.3h7.4v5.4h-7.4zM238.7,410.6h7.4v5.4h-7.4zM288.9,410.6h7.4v5.4h-7.4zM297.3,416.9h7.4v5.4h-7.4zM305.6,416.9h7.4v5.4h-7.4zM169.9,423.1h7.4v5.4h-7.4zM178.2,423.1h7.4v5.4h-7.4zM459.2,429.4h7.4v5.4h-7.4zM501.4,429.4h7.4v5.4h-7.4zM509.9,429.4h7.4v5.4h-7.4zM305.6,435.7h7.4v5.4h-7.4zM493.0,435.7h7.4v5.4h-7.4zM161.5,441.9h7.4v5.4h-7.4zM288.9,441.9h7.4v5.4h-7.4zM297.3,441.9h7.4v5.4h-7.4zM161.5,448.2h7.4v5.4h-7.4zM288.9,448.2h7.4v5.4h-7.4zM186.6,454.5h7.4v5.4h-7.4zM230.3,454.5h7.4v5.4h-7.4zM366.4,454.5h7.4v5.4h-7.4zM280.5,460.7h7.4v5.4h-7.4zM288.9,460.7h7.4v5.4h-7.4zM459.2,460.7h7.4v5.4h-7.4zM501.4,460.7h7.4v5.4h-7.4zM509.9,460.7h7.4v5.4h-7.4zM169.9,473.3h7.4v5.4h-7.4zM288.9,473.3h7.4v5.4h-7.4zM433.9,479.5h7.4v5.4h-7.4zM459.2,479.5h7.4v5.4h-7.4zM501.4,479.5h7.4v5.4h-7.4zM509.9,479.5h7.4v5.4h-7.4zM238.7,485.8h7.4v5.4h-7.4zM305.6,492.1h7.4v5.4h-7.4zM186.6,498.3h7.4v5.4h-7.4zM459.2,498.3h7.4v5.4h-7.4zM501.4,504.6h7.4v5.4h-7.4zM509.9,504.6h7.4v5.4h-7.4zM280.5,510.9h7.4v5.4h-7.4zM305.6,510.9h7.4v5.4h-7.4zM213.5,517.1h7.4v5.4h-7.4zM297.3,517.1h7.4v5.4h-7.4zM305.6,517.1h7.4v5.4h-7.4zM305.6,523.4h7.4v5.4h-7.4zM408.6,529.7h7.4v5.4h-7.4zM442.4,535.9h7.4v5.4h-7.4zM459.2,535.9h7.4v5.4h-7.4zM501.4,535.9h7.4v5.4h-7.4zM509.9,535.9h7.4v5.4h-7.4zM213.5,542.2h7.4v5.4h-7.4zM400.2,542.2h7.4v5.4h-7.4zM213.5,548.5h7.4v5.4h-7.4zM297.3,548.5h7.4v5.4h-7.4zM305.6,548.5h7.4v5.4h-7.4zM238.7,554.7h7.4v5.4h-7.4zM358.0,554.7h7.4v5.4h-7.4zM280.5,561.0h7.4v5.4h-7.4zM459.2,561.0h7.4v5.4h-7.4zM501.4,561.0h7.4v5.4h-7.4zM509.9,561.0h7.4v5.4h-7.4zM161.5,567.3h7.4v5.4h-7.4zM297.3,567.3h7.4v5.4h-7.4zM305.6,567.3h7.4v5.4h-7.4zM213.5,573.5h7.4v5.4h-7.4zM297.3,573.5h7.4v5.4h-7.4zM400.2,573.5h7.4v5.4h-7.4zM417.0,573.5h7.4v5.4h-7.4zM459.2,573.5h7.4v5.4h-7.4zM213.5,579.8h7.4v5.4h-7.4zM297.3,579.8h7.4v5.4h-7.4zM400.2,579.8h7.4v5.4h-7.4zM417.0,579.8h7.4v5.4h-7.4zM213.5,586.1h7.4v5.4h-7.4zM297.3,586.1h7.4v5.4h-7.4zM358.0,586.1h7.4v5.4h-7.4zM459.2,594.4h7.4v5.3h-7.4zM297.3,600.6h7.4v5.3h-7.4zM305.6,600.6h7.4v5.3h-7.4zM459.2,600.6h7.4v5.3h-7.4zM493.0,600.6h7.4v5.3h-7.4zM459.2,606.8h7.4v5.3h-7.4zM501.4,606.8h7.4v5.3h-7.4zM205.2,613.0h7.4v5.3h-7.4zM459.2,613.0h7.4v5.3h-7.4zM501.4,613.0h7.4v5.3h-7.4zM509.9,613.0h7.4v5.3h-7.4zM366.4,619.1h7.4v5.3h-7.4zM391.7,619.1h7.4v5.3h-7.4zM400.2,619.1h7.4v5.3h-7.4zM417.0,619.1h7.4v5.3h-7.4zM450.8,619.1h7.4v5.3h-7.4zM442.4,625.3h7.4v5.3h-7.4zM459.2,625.3h7.4v5.3h-7.4zM501.4,625.3h7.4v5.3h-7.4zM509.9,625.3h7.4v5.3h-7.4zM459.2,631.5h7.4v5.3h-7.4zM509.9,631.5h7.4v5.3h-7.4zM433.9,637.7h7.4v5.3h-7.4zM459.2,637.7h7.4v5.3h-7.4zM493.0,637.7h7.4v5.3h-7.4zM501.4,637.7h7.4v5.3h-7.4zM509.9,637.7h7.4v5.3h-7.4zM400.2,643.9h7.4v5.3h-7.4zM433.9,643.9h7.4v5.3h-7.4zM442.4,643.9h7.4v5.3h-7.4zM459.2,643.9h7.4v5.3h-7.4zM493.0,643.9h7.4v5.3h-7.4zM501.4,643.9h7.4v5.3h-7.4zM509.9,643.9h7.4v5.3h-7.4zM433.9,650.0h7.4v5.3h-7.4zM442.4,650.0h7.4v5.3h-7.4zM459.2,650.0h7.4v5.3h-7.4zM501.4,650.0h7.4v5.3h-7.4zM509.9,650.0h7.4v5.3h-7.4z"/><path fill="#ae0508" d="M272.1,34.6h7.4v5.4h-7.4zM288.9,34.6h7.4v5.4h-7.4zM408.6,34.6h7.4v5.4h-7.4zM186.6,40.9h7.4v5.4h-7.4zM366.4,40.9h7.4v5.4h-7.4zM433.9,40.9h7.4v5.4h-7.4zM186.6,47.2h7.4v5.4h-7.4zM272.1,47.2h7.4v5.4h-7.4zM288.9,47.2h7.4v5.4h-7.4zM349.6,47.2h7.4v5.4h-7.4zM467.7,47.2h7.4v5.4h-7.4zM213.5,53.4h7.4v5.4h-7.4zM272.1,53.4h7.4v5.4h-7.4zM288.9,53.4h7.4v5.4h-7.4zM341.1,53.4h7.4v5.4h-7.4zM358.0,53.4h7.4v5.4h-7.4zM221.9,59.7h7.4v5.4h-7.4zM288.9,59.7h7.4v5.4h-7.4zM161.5,66.0h7.4v5.4h-7.4zM205.2,66.0h7.4v5.4h-7.4zM272.1,66.0h7.4v5.4h-7.4zM280.5,66.0h7.4v5.4h-7.4zM288.9,66.0h7.4v5.4h-7.4zM213.5,72.2h7.4v5.4h-7.4zM272.1,72.2h7.4v5.4h-7.4zM288.9,72.2h7.4v5.4h-7.4zM205.2,78.5h7.4v5.4h-7.4zM341.1,78.5h7.4v5.4h-7.4zM349.6,78.5h7.4v5.4h-7.4zM374.9,78.5h7.4v5.4h-7.4zM383.3,78.5h7.4v5.4h-7.4zM400.2,78.5h7.4v5.4h-7.4zM408.6,78.5h7.4v5.4h-7.4zM450.8,78.5h7.4v5.4h-7.4zM161.5,84.8h7.4v5.4h-7.4zM255.4,84.8h7.4v5.4h-7.4zM272.1,84.8h7.4v5.4h-7.4zM305.6,84.8h7.4v5.4h-7.4zM213.5,91.0h7.4v5.4h-7.4zM263.8,91.0h7.4v5.4h-7.4zM272.1,91.0h7.4v5.4h-7.4zM288.9,91.0h7.4v5.4h-7.4zM196.8,97.3h7.4v5.4h-7.4zM213.5,97.3h7.4v5.4h-7.4zM263.8,97.3h7.4v5.4h-7.4zM272.1,97.3h7.4v5.4h-7.4zM288.9,97.3h7.4v5.4h-7.4zM374.9,97.3h7.4v5.4h-7.4zM391.7,97.3h7.4v5.4h-7.4zM221.9,103.5h7.4v5.4h-7.4zM230.3,103.5h7.4v5.4h-7.4zM288.9,103.5h7.4v5.4h-7.4zM383.3,103.5h7.4v5.4h-7.4zM408.6,103.5h7.4v5.4h-7.4zM213.5,109.8h7.4v5.4h-7.4zM238.7,109.8h7.4v5.4h-7.4zM255.4,109.8h7.4v5.4h-7.4zM263.8,109.8h7.4v5.4h-7.4zM288.9,109.8h7.4v5.4h-7.4zM358.0,109.8h7.4v5.4h-7.4zM213.5,116.1h7.4v5.4h-7.4zM221.9,116.1h7.4v5.4h-7.4zM238.7,116.1h7.4v5.4h-7.4zM247.0,116.1h7.4v5.4h-7.4zM255.4,116.1h7.4v5.4h-7.4zM263.8,116.1h7.4v5.4h-7.4zM288.9,116.1h7.4v5.4h-7.4zM358.0,116.1h7.4v5.4h-7.4zM196.8,122.3h7.4v5.4h-7.4zM247.0,122.3h7.4v5.4h-7.4zM255.4,122.3h7.4v5.4h-7.4zM288.9,122.3h7.4v5.4h-7.4zM196.8,128.6h7.4v5.4h-7.4zM288.9,128.6h7.4v5.4h-7.4zM400.2,128.6h7.4v5.4h-7.4zM221.9,134.9h7.4v5.4h-7.4zM247.0,134.9h7.4v5.4h-7.4zM255.4,134.9h7.4v5.4h-7.4zM272.1,134.9h7.4v5.4h-7.4zM288.9,134.9h7.4v5.4h-7.4zM230.3,141.1h7.4v5.4h-7.4zM255.4,141.1h7.4v5.4h-7.4zM263.8,141.1h7.4v5.4h-7.4zM272.1,141.1h7.4v5.4h-7.4zM288.9,141.1h7.4v5.4h-7.4zM213.5,147.4h7.4v5.4h-7.4zM280.5,147.4h7.4v5.4h-7.4zM297.3,147.4h7.4v5.4h-7.4zM408.6,147.4h7.4v5.4h-7.4zM417.0,147.4h7.4v5.4h-7.4zM238.7,153.7h7.4v5.4h-7.4zM255.4,153.7h7.4v5.4h-7.4zM288.9,153.7h7.4v5.4h-7.4zM161.5,159.9h7.4v5.4h-7.4zM255.4,159.9h7.4v5.4h-7.4zM272.1,159.9h7.4v5.4h-7.4zM288.9,159.9h7.4v5.4h-7.4zM341.1,159.9h7.4v5.4h-7.4zM272.1,166.2h7.4v5.4h-7.4zM288.9,166.2h7.4v5.4h-7.4zM358.0,166.2h7.4v5.4h-7.4zM161.5,172.5h7.4v5.4h-7.4zM213.5,172.5h7.4v5.4h-7.4zM288.9,172.5h7.4v5.4h-7.4zM305.6,172.5h7.4v5.4h-7.4zM391.7,172.5h7.4v5.4h-7.4zM213.5,178.7h7.4v5.4h-7.4zM272.1,178.7h7.4v5.4h-7.4zM272.1,185.0h7.4v5.4h-7.4zM280.5,185.0h7.4v5.4h-7.4zM288.9,185.0h7.4v5.4h-7.4zM358.0,185.0h7.4v5.4h-7.4zM255.4,191.3h7.4v5.4h-7.4zM272.1,191.3h7.4v5.4h-7.4zM288.9,191.3h7.4v5.4h-7.4zM255.4,197.5h7.4v5.4h-7.4zM272.1,197.5h7.4v5.4h-7.4zM288.9,197.5h7.4v5.4h-7.4zM161.5,203.8h7.4v5.4h-7.4zM221.9,203.8h7.4v5.4h-7.4zM255.4,203.8h7.4v5.4h-7.4zM263.8,203.8h7.4v5.4h-7.4zM288.9,203.8h7.4v5.4h-7.4zM205.2,210.1h7.4v5.4h-7.4zM213.5,210.1h7.4v5.4h-7.4zM213.5,216.3h7.4v5.4h-7.4zM288.9,216.3h7.4v5.4h-7.4zM230.3,222.6h7.4v5.4h-7.4zM288.9,222.6h7.4v5.4h-7.4zM374.9,222.6h7.4v5.4h-7.4zM408.6,222.6h7.4v5.4h-7.4zM221.9,228.9h7.4v5.4h-7.4zM280.5,228.9h7.4v5.4h-7.4zM459.2,228.9h7.4v5.4h-7.4zM169.9,235.1h7.4v5.4h-7.4zM178.2,235.1h7.4v5.4h-7.4zM255.4,235.1h7.4v5.4h-7.4zM280.5,235.1h7.4v5.4h-7.4zM288.9,241.4h7.4v5.4h-7.4zM374.9,241.4h7.4v5.4h-7.4zM383.3,241.4h7.4v5.4h-7.4zM408.6,241.4h7.4v5.4h-7.4zM417.0,241.4h7.4v5.4h-7.4zM450.8,241.4h7.4v5.4h-7.4zM288.9,247.7h7.4v5.4h-7.4zM297.3,247.7h7.4v5.4h-7.4zM400.2,247.7h7.4v5.4h-7.4zM196.8,253.9h7.4v5.4h-7.4zM221.9,253.9h7.4v5.4h-7.4zM255.4,253.9h7.4v5.4h-7.4zM280.5,253.9h7.4v5.4h-7.4zM358.0,253.9h7.4v5.4h-7.4zM230.3,260.2h7.4v5.4h-7.4zM288.9,260.2h7.4v5.4h-7.4zM315.8,260.2h7.4v5.4h-7.4zM255.4,266.5h7.4v5.4h-7.4zM272.1,266.5h7.4v5.4h-7.4zM297.3,266.5h7.4v5.4h-7.4zM305.6,266.5h7.4v5.4h-7.4zM459.2,266.5h7.4v5.4h-7.4zM161.5,272.7h7.4v5.4h-7.4zM238.7,272.7h7.4v5.4h-7.4zM297.3,272.7h7.4v5.4h-7.4zM442.4,272.7h7.4v5.4h-7.4zM161.5,279.0h7.4v5.4h-7.4zM186.6,279.0h7.4v5.4h-7.4zM238.7,279.0h7.4v5.4h-7.4zM272.1,279.0h7.4v5.4h-7.4zM349.6,279.0h7.4v5.4h-7.4zM221.9,285.3h7.4v5.4h-7.4zM297.3,285.3h7.4v5.4h-7.4zM255.4,291.5h7.4v5.4h-7.4zM272.1,291.5h7.4v5.4h-7.4zM280.5,291.5h7.4v5.4h-7.4zM305.6,291.5h7.4v5.4h-7.4zM238.7,297.8h7.4v5.4h-7.4zM247.0,297.8h7.4v5.4h-7.4zM272.1,297.8h7.4v5.4h-7.4zM280.5,297.8h7.4v5.4h-7.4zM288.9,297.8h7.4v5.4h-7.4zM417.0,297.8h7.4v5.4h-7.4zM450.8,297.8h7.4v5.4h-7.4zM186.6,304.1h7.4v5.4h-7.4zM263.8,304.1h7.4v5.4h-7.4zM288.9,304.1h7.4v5.4h-7.4zM366.4,304.1h7.4v5.4h-7.4zM442.4,304.1h7.4v5.4h-7.4zM459.2,304.1h7.4v5.4h-7.4zM161.5,310.3h7.4v5.4h-7.4zM230.3,310.3h7.4v5.4h-7.4zM238.7,310.3h7.4v5.4h-7.4zM263.8,310.3h7.4v5.4h-7.4zM280.5,310.3h7.4v5.4h-7.4zM297.3,310.3h7.4v5.4h-7.4zM349.6,310.3h7.4v5.4h-7.4zM442.4,310.3h7.4v5.4h-7.4zM213.5,316.6h7.4v5.4h-7.4zM221.9,316.6h7.4v5.4h-7.4zM272.1,316.6h7.4v5.4h-7.4zM288.9,316.6h7.4v5.4h-7.4zM161.5,322.9h7.4v5.4h-7.4zM230.3,322.9h7.4v5.4h-7.4zM255.4,322.9h7.4v5.4h-7.4zM280.5,322.9h7.4v5.4h-7.4zM297.3,322.9h7.4v5.4h-7.4zM450.8,322.9h7.4v5.4h-7.4zM169.9,329.1h7.4v5.4h-7.4zM178.2,329.1h7.4v5.4h-7.4zM186.6,329.1h7.4v5.4h-7.4zM230.3,329.1h7.4v5.4h-7.4zM324.2,329.1h7.4v5.4h-7.4zM349.6,329.1h7.4v5.4h-7.4zM161.5,335.4h7.4v5.4h-7.4zM213.5,335.4h7.4v5.4h-7.4zM221.9,335.4h7.4v5.4h-7.4zM247.0,335.4h7.4v5.4h-7.4zM272.1,335.4h7.4v5.4h-7.4zM288.9,335.4h7.4v5.4h-7.4zM230.3,341.7h7.4v5.4h-7.4zM280.5,341.7h7.4v5.4h-7.4zM297.3,341.7h7.4v5.4h-7.4zM213.5,347.9h7.4v5.4h-7.4zM288.9,347.9h7.4v5.4h-7.4zM297.3,347.9h7.4v5.4h-7.4zM161.5,354.2h7.4v5.4h-7.4zM169.9,354.2h7.4v5.4h-7.4zM178.2,354.2h7.4v5.4h-7.4zM230.3,354.2h7.4v5.4h-7.4zM297.3,354.2h7.4v5.4h-7.4zM425.5,354.2h7.4v5.4h-7.4zM238.7,360.5h7.4v5.4h-7.4zM305.6,360.5h7.4v5.4h-7.4zM341.1,360.5h7.4v5.4h-7.4zM358.0,360.5h7.4v5.4h-7.4zM391.7,360.5h7.4v5.4h-7.4zM400.2,360.5h7.4v5.4h-7.4zM417.0,360.5h7.4v5.4h-7.4zM450.8,360.5h7.4v5.4h-7.4zM169.9,366.7h7.4v5.4h-7.4zM186.6,366.7h7.4v5.4h-7.4zM230.3,366.7h7.4v5.4h-7.4zM238.7,366.7h7.4v5.4h-7.4zM205.2,373.0h7.4v5.4h-7.4zM263.8,373.0h7.4v5.4h-7.4zM272.1,373.0h7.4v5.4h-7.4zM288.9,373.0h7.4v5.4h-7.4zM305.6,373.0h7.4v5.4h-7.4zM272.1,379.3h7.4v5.4h-7.4zM288.9,379.3h7.4v5.4h-7.4zM408.6,379.3h7.4v5.4h-7.4zM196.8,385.5h7.4v5.4h-7.4zM272.1,385.5h7.4v5.4h-7.4zM288.9,385.5h7.4v5.4h-7.4zM186.6,391.8h7.4v5.4h-7.4zM297.3,391.8h7.4v5.4h-7.4zM230.3,398.1h7.4v5.4h-7.4zM272.1,398.1h7.4v5.4h-7.4zM442.4,398.1h7.4v5.4h-7.4zM213.5,404.3h7.4v5.4h-7.4zM358.0,404.3h7.4v5.4h-7.4zM230.3,410.6h7.4v5.4h-7.4zM305.6,410.6h7.4v5.4h-7.4zM493.0,410.6h7.4v5.4h-7.4zM272.1,416.9h7.4v5.4h-7.4zM288.9,416.9h7.4v5.4h-7.4zM186.6,423.1h7.4v5.4h-7.4zM213.5,423.1h7.4v5.4h-7.4zM230.3,423.1h7.4v5.4h-7.4zM238.7,423.1h7.4v5.4h-7.4zM255.4,423.1h7.4v5.4h-7.4zM280.5,423.1h7.4v5.4h-7.4zM341.1,423.1h7.4v5.4h-7.4zM442.4,423.1h7.4v5.4h-7.4zM272.1,429.4h7.4v5.4h-7.4zM280.5,429.4h7.4v5.4h-7.4zM433.9,429.4h7.4v5.4h-7.4zM442.4,429.4h7.4v5.4h-7.4zM272.1,435.7h7.4v5.4h-7.4zM288.9,435.7h7.4v5.4h-7.4zM297.3,435.7h7.4v5.4h-7.4zM341.1,435.7h7.4v5.4h-7.4zM358.0,435.7h7.4v5.4h-7.4zM213.5,441.9h7.4v5.4h-7.4zM255.4,441.9h7.4v5.4h-7.4zM305.6,441.9h7.4v5.4h-7.4zM213.5,448.2h7.4v5.4h-7.4zM297.3,448.2h7.4v5.4h-7.4zM305.6,448.2h7.4v5.4h-7.4zM238.7,454.5h7.4v5.4h-7.4zM263.8,454.5h7.4v5.4h-7.4zM230.3,460.7h7.4v5.4h-7.4zM272.1,460.7h7.4v5.4h-7.4zM297.3,460.7h7.4v5.4h-7.4zM280.5,467.0h7.4v5.4h-7.4zM459.2,467.0h7.4v5.4h-7.4zM501.4,467.0h7.4v5.4h-7.4zM509.9,467.0h7.4v5.4h-7.4zM161.5,473.3h7.4v5.4h-7.4zM186.6,473.3h7.4v5.4h-7.4zM230.3,473.3h7.4v5.4h-7.4zM238.7,473.3h7.4v5.4h-7.4zM341.1,473.3h7.4v5.4h-7.4zM442.4,479.5h7.4v5.4h-7.4zM205.2,485.8h7.4v5.4h-7.4zM213.5,485.8h7.4v5.4h-7.4zM272.1,485.8h7.4v5.4h-7.4zM288.9,485.8h7.4v5.4h-7.4zM297.3,485.8h7.4v5.4h-7.4zM305.6,485.8h7.4v5.4h-7.4zM272.1,492.1h7.4v5.4h-7.4zM280.5,492.1h7.4v5.4h-7.4zM288.9,492.1h7.4v5.4h-7.4zM297.3,492.1h7.4v5.4h-7.4zM358.0,492.1h7.4v5.4h-7.4zM400.2,492.1h7.4v5.4h-7.4zM417.0,492.1h7.4v5.4h-7.4zM169.9,498.3h7.4v5.4h-7.4zM442.4,498.3h7.4v5.4h-7.4zM501.4,498.3h7.4v5.4h-7.4zM509.9,498.3h7.4v5.4h-7.4zM280.5,504.6h7.4v5.4h-7.4zM213.5,510.9h7.4v5.4h-7.4zM230.3,510.9h7.4v5.4h-7.4zM272.1,510.9h7.4v5.4h-7.4zM374.9,510.9h7.4v5.4h-7.4zM391.7,510.9h7.4v5.4h-7.4zM400.2,510.9h7.4v5.4h-7.4zM408.6,510.9h7.4v5.4h-7.4zM459.2,510.9h7.4v5.4h-7.4zM501.4,510.9h7.4v5.4h-7.4zM272.1,517.1h7.4v5.4h-7.4zM358.0,517.1h7.4v5.4h-7.4zM374.9,517.1h7.4v5.4h-7.4zM391.7,517.1h7.4v5.4h-7.4zM400.2,517.1h7.4v5.4h-7.4zM408.6,517.1h7.4v5.4h-7.4zM238.7,523.4h7.4v5.4h-7.4zM272.1,523.4h7.4v5.4h-7.4zM288.9,523.4h7.4v5.4h-7.4zM297.3,523.4h7.4v5.4h-7.4zM358.0,523.4h7.4v5.4h-7.4zM442.4,523.4h7.4v5.4h-7.4zM196.8,529.7h7.4v5.4h-7.4zM417.0,529.7h7.4v5.4h-7.4zM425.5,529.7h7.4v5.4h-7.4zM459.2,529.7h7.4v5.4h-7.4zM501.4,529.7h7.4v5.4h-7.4zM509.9,529.7h7.4v5.4h-7.4zM358.0,542.2h7.4v5.4h-7.4zM374.9,542.2h7.4v5.4h-7.4zM297.3,554.7h7.4v5.4h-7.4zM305.6,554.7h7.4v5.4h-7.4zM383.3,554.7h7.4v5.4h-7.4zM391.7,554.7h7.4v5.4h-7.4zM400.2,554.7h7.4v5.4h-7.4zM417.0,554.7h7.4v5.4h-7.4zM459.2,554.7h7.4v5.4h-7.4zM467.7,554.7h7.4v5.4h-7.4zM501.4,554.7h7.4v5.4h-7.4zM272.1,561.0h7.4v5.4h-7.4zM425.5,561.0h7.4v5.4h-7.4zM213.5,567.3h7.4v5.4h-7.4zM305.6,573.5h7.4v5.4h-7.4zM366.4,573.5h7.4v5.4h-7.4zM391.7,573.5h7.4v5.4h-7.4zM442.4,573.5h7.4v5.4h-7.4zM493.0,573.5h7.4v5.4h-7.4zM238.7,579.8h7.4v5.4h-7.4zM366.4,579.8h7.4v5.4h-7.4zM425.5,579.8h7.4v5.4h-7.4zM459.2,579.8h7.4v5.4h-7.4zM501.4,579.8h7.4v5.4h-7.4zM221.9,586.1h7.4v5.4h-7.4zM238.7,586.1h7.4v5.4h-7.4zM400.2,586.1h7.4v5.4h-7.4zM417.0,586.1h7.4v5.4h-7.4zM332.7,594.4h7.4v5.3h-7.4zM400.2,594.4h7.4v5.3h-7.4zM493.0,594.4h7.4v5.3h-7.4zM400.2,600.6h7.4v5.3h-7.4zM450.8,600.6h7.4v5.3h-7.4zM509.9,600.6h7.4v5.3h-7.4zM280.5,606.8h7.4v5.3h-7.4zM442.4,606.8h7.4v5.3h-7.4zM493.0,606.8h7.4v5.3h-7.4zM509.9,606.8h7.4v5.3h-7.4zM433.9,613.0h7.4v5.3h-7.4zM442.4,613.0h7.4v5.3h-7.4zM493.0,613.0h7.4v5.3h-7.4zM341.1,619.1h7.4v5.3h-7.4zM349.6,619.1h7.4v5.3h-7.4zM358.0,619.1h7.4v5.3h-7.4zM374.9,619.1h7.4v5.3h-7.4zM459.2,619.1h7.4v5.3h-7.4zM493.0,619.1h7.4v5.3h-7.4zM501.4,619.1h7.4v5.3h-7.4zM272.1,625.3h7.4v5.3h-7.4zM332.7,625.3h7.4v5.3h-7.4zM433.9,625.3h7.4v5.3h-7.4zM493.0,625.3h7.4v5.3h-7.4zM272.1,631.5h7.4v5.3h-7.4zM341.1,631.5h7.4v5.3h-7.4zM433.9,631.5h7.4v5.3h-7.4zM442.4,631.5h7.4v5.3h-7.4zM493.0,631.5h7.4v5.3h-7.4zM501.4,631.5h7.4v5.3h-7.4zM324.2,637.7h7.4v5.3h-7.4zM341.1,637.7h7.4v5.3h-7.4zM400.2,637.7h7.4v5.3h-7.4zM442.4,637.7h7.4v5.3h-7.4zM450.8,637.7h7.4v5.3h-7.4zM467.7,637.7h7.4v5.3h-7.4zM484.5,637.7h7.4v5.3h-7.4zM417.0,643.9h7.4v5.3h-7.4zM450.8,643.9h7.4v5.3h-7.4zM467.7,643.9h7.4v5.3h-7.4zM476.1,643.9h7.4v5.3h-7.4zM484.5,643.9h7.4v5.3h-7.4zM400.2,650.0h7.4v5.3h-7.4zM417.0,650.0h7.4v5.3h-7.4zM450.8,650.0h7.4v5.3h-7.4zM467.7,650.0h7.4v5.3h-7.4zM476.1,650.0h7.4v5.3h-7.4zM484.5,650.0h7.4v5.3h-7.4zM493.0,650.0h7.4v5.3h-7.4z"/><path fill="#4c0205" d="M280.5,34.6h7.4v5.4h-7.4zM383.3,34.6h7.4v5.4h-7.4zM400.2,34.6h7.4v5.4h-7.4zM493.0,34.6h7.4v5.4h-7.4zM280.5,40.9h7.4v5.4h-7.4zM288.9,40.9h7.4v5.4h-7.4zM297.3,40.9h7.4v5.4h-7.4zM442.4,40.9h7.4v5.4h-7.4zM459.2,40.9h7.4v5.4h-7.4zM501.4,40.9h7.4v5.4h-7.4zM178.2,47.2h7.4v5.4h-7.4zM280.5,47.2h7.4v5.4h-7.4zM305.6,47.2h7.4v5.4h-7.4zM341.1,47.2h7.4v5.4h-7.4zM484.5,47.2h7.4v5.4h-7.4zM280.5,53.4h7.4v5.4h-7.4zM417.0,53.4h7.4v5.4h-7.4zM493.0,53.4h7.4v5.4h-7.4zM358.0,59.7h7.4v5.4h-7.4zM178.2,66.0h7.4v5.4h-7.4zM358.0,66.0h7.4v5.4h-7.4zM374.9,66.0h7.4v5.4h-7.4zM178.2,72.2h7.4v5.4h-7.4zM186.6,72.2h7.4v5.4h-7.4zM280.5,72.2h7.4v5.4h-7.4zM374.9,72.2h7.4v5.4h-7.4zM297.3,78.5h7.4v5.4h-7.4zM305.6,78.5h7.4v5.4h-7.4zM315.8,78.5h7.4v5.4h-7.4zM366.4,78.5h7.4v5.4h-7.4zM391.7,78.5h7.4v5.4h-7.4zM484.5,78.5h7.4v5.4h-7.4zM501.4,78.5h7.4v5.4h-7.4zM509.9,78.5h7.4v5.4h-7.4zM178.2,84.8h7.4v5.4h-7.4zM186.6,84.8h7.4v5.4h-7.4zM280.5,84.8h7.4v5.4h-7.4zM374.9,84.8h7.4v5.4h-7.4zM178.2,91.0h7.4v5.4h-7.4zM186.6,91.0h7.4v5.4h-7.4zM280.5,91.0h7.4v5.4h-7.4zM280.5,97.3h7.4v5.4h-7.4zM383.3,97.3h7.4v5.4h-7.4zM408.6,97.3h7.4v5.4h-7.4zM417.0,97.3h7.4v5.4h-7.4zM425.5,97.3h7.4v5.4h-7.4zM476.1,97.3h7.4v5.4h-7.4zM161.5,103.5h7.4v5.4h-7.4zM280.5,103.5h7.4v5.4h-7.4zM391.7,103.5h7.4v5.4h-7.4zM161.5,109.8h7.4v5.4h-7.4zM186.6,109.8h7.4v5.4h-7.4zM280.5,109.8h7.4v5.4h-7.4zM161.5,116.1h7.4v5.4h-7.4zM280.5,116.1h7.4v5.4h-7.4zM391.7,116.1h7.4v5.4h-7.4zM341.1,122.3h7.4v5.4h-7.4zM417.0,122.3h7.4v5.4h-7.4zM280.5,128.6h7.4v5.4h-7.4zM374.9,128.6h7.4v5.4h-7.4zM391.7,128.6h7.4v5.4h-7.4zM450.8,128.6h7.4v5.4h-7.4zM476.1,128.6h7.4v5.4h-7.4zM161.5,134.9h7.4v5.4h-7.4zM280.5,134.9h7.4v5.4h-7.4zM358.0,134.9h7.4v5.4h-7.4zM383.3,134.9h7.4v5.4h-7.4zM391.7,134.9h7.4v5.4h-7.4zM400.2,134.9h7.4v5.4h-7.4zM417.0,134.9h7.4v5.4h-7.4zM161.5,141.1h7.4v5.4h-7.4zM280.5,141.1h7.4v5.4h-7.4zM358.0,141.1h7.4v5.4h-7.4zM417.0,141.1h7.4v5.4h-7.4zM288.9,147.4h7.4v5.4h-7.4zM374.9,147.4h7.4v5.4h-7.4zM383.3,147.4h7.4v5.4h-7.4zM391.7,147.4h7.4v5.4h-7.4zM433.9,147.4h7.4v5.4h-7.4zM450.8,147.4h7.4v5.4h-7.4zM493.0,147.4h7.4v5.4h-7.4zM501.4,147.4h7.4v5.4h-7.4zM161.5,153.7h7.4v5.4h-7.4zM280.5,153.7h7.4v5.4h-7.4zM280.5,159.9h7.4v5.4h-7.4zM383.3,159.9h7.4v5.4h-7.4zM408.6,159.9h7.4v5.4h-7.4zM161.5,166.2h7.4v5.4h-7.4zM280.5,166.2h7.4v5.4h-7.4zM391.7,166.2h7.4v5.4h-7.4zM493.0,166.2h7.4v5.4h-7.4zM178.2,172.5h7.4v5.4h-7.4zM186.6,172.5h7.4v5.4h-7.4zM280.5,172.5h7.4v5.4h-7.4zM358.0,172.5h7.4v5.4h-7.4zM374.9,172.5h7.4v5.4h-7.4zM383.3,172.5h7.4v5.4h-7.4zM280.5,178.7h7.4v5.4h-7.4zM358.0,178.7h7.4v5.4h-7.4zM161.5,185.0h7.4v5.4h-7.4zM341.1,185.0h7.4v5.4h-7.4zM161.5,191.3h7.4v5.4h-7.4zM280.5,191.3h7.4v5.4h-7.4zM358.0,191.3h7.4v5.4h-7.4zM358.0,197.5h7.4v5.4h-7.4zM374.9,197.5h7.4v5.4h-7.4zM383.3,197.5h7.4v5.4h-7.4zM186.6,203.8h7.4v5.4h-7.4zM358.0,203.8h7.4v5.4h-7.4zM391.7,203.8h7.4v5.4h-7.4zM493.0,203.8h7.4v5.4h-7.4zM280.5,210.1h7.4v5.4h-7.4zM358.0,210.1h7.4v5.4h-7.4zM280.5,222.6h7.4v5.4h-7.4zM391.7,222.6h7.4v5.4h-7.4zM433.9,222.6h7.4v5.4h-7.4zM374.9,228.9h7.4v5.4h-7.4zM391.7,228.9h7.4v5.4h-7.4zM400.2,228.9h7.4v5.4h-7.4zM433.9,228.9h7.4v5.4h-7.4zM501.4,228.9h7.4v5.4h-7.4zM297.3,235.1h7.4v5.4h-7.4zM358.0,235.1h7.4v5.4h-7.4zM366.4,235.1h7.4v5.4h-7.4zM425.5,235.1h7.4v5.4h-7.4zM433.9,235.1h7.4v5.4h-7.4zM442.4,235.1h7.4v5.4h-7.4zM425.5,241.4h7.4v5.4h-7.4zM433.9,241.4h7.4v5.4h-7.4zM459.2,241.4h7.4v5.4h-7.4zM467.7,241.4h7.4v5.4h-7.4zM493.0,241.4h7.4v5.4h-7.4zM501.4,241.4h7.4v5.4h-7.4zM280.5,247.7h7.4v5.4h-7.4zM366.4,247.7h7.4v5.4h-7.4zM383.3,247.7h7.4v5.4h-7.4zM391.7,247.7h7.4v5.4h-7.4zM408.6,247.7h7.4v5.4h-7.4zM450.8,247.7h7.4v5.4h-7.4zM161.5,253.9h7.4v5.4h-7.4zM169.9,253.9h7.4v5.4h-7.4zM288.9,253.9h7.4v5.4h-7.4zM297.3,253.9h7.4v5.4h-7.4zM400.2,253.9h7.4v5.4h-7.4zM161.5,260.2h7.4v5.4h-7.4zM186.6,260.2h7.4v5.4h-7.4zM280.5,260.2h7.4v5.4h-7.4zM297.3,260.2h7.4v5.4h-7.4zM305.6,260.2h7.4v5.4h-7.4zM324.2,260.2h7.4v5.4h-7.4zM358.0,260.2h7.4v5.4h-7.4zM366.4,260.2h7.4v5.4h-7.4zM459.2,260.2h7.4v5.4h-7.4zM366.4,266.5h7.4v5.4h-7.4zM417.0,266.5h7.4v5.4h-7.4zM493.0,266.5h7.4v5.4h-7.4zM501.4,266.5h7.4v5.4h-7.4zM280.5,272.7h7.4v5.4h-7.4zM288.9,272.7h7.4v5.4h-7.4zM305.6,272.7h7.4v5.4h-7.4zM169.9,279.0h7.4v5.4h-7.4zM332.7,279.0h7.4v5.4h-7.4zM442.4,279.0h7.4v5.4h-7.4zM280.5,285.3h7.4v5.4h-7.4zM288.9,285.3h7.4v5.4h-7.4zM442.4,285.3h7.4v5.4h-7.4zM161.5,291.5h7.4v5.4h-7.4zM186.6,291.5h7.4v5.4h-7.4zM358.0,291.5h7.4v5.4h-7.4zM383.3,291.5h7.4v5.4h-7.4zM400.2,291.5h7.4v5.4h-7.4zM476.1,291.5h7.4v5.4h-7.4zM186.6,297.8h7.4v5.4h-7.4zM408.6,297.8h7.4v5.4h-7.4zM280.5,304.1h7.4v5.4h-7.4zM305.6,304.1h7.4v5.4h-7.4zM358.0,304.1h7.4v5.4h-7.4zM400.2,304.1h7.4v5.4h-7.4zM493.0,304.1h7.4v5.4h-7.4zM169.9,310.3h7.4v5.4h-7.4zM186.6,310.3h7.4v5.4h-7.4zM305.6,310.3h7.4v5.4h-7.4zM324.2,310.3h7.4v5.4h-7.4zM332.7,310.3h7.4v5.4h-7.4zM341.1,310.3h7.4v5.4h-7.4zM366.4,310.3h7.4v5.4h-7.4zM280.5,316.6h7.4v5.4h-7.4zM288.9,322.9h7.4v5.4h-7.4zM305.6,322.9h7.4v5.4h-7.4zM383.3,322.9h7.4v5.4h-7.4zM391.7,322.9h7.4v5.4h-7.4zM408.6,322.9h7.4v5.4h-7.4zM280.5,329.1h7.4v5.4h-7.4zM288.9,329.1h7.4v5.4h-7.4zM297.3,329.1h7.4v5.4h-7.4zM417.0,329.1h7.4v5.4h-7.4zM425.5,329.1h7.4v5.4h-7.4zM442.4,329.1h7.4v5.4h-7.4zM280.5,335.4h7.4v5.4h-7.4zM358.0,335.4h7.4v5.4h-7.4zM288.9,341.7h7.4v5.4h-7.4zM305.6,341.7h7.4v5.4h-7.4zM366.4,341.7h7.4v5.4h-7.4zM408.6,347.9h7.4v5.4h-7.4zM280.5,354.2h7.4v5.4h-7.4zM288.9,354.2h7.4v5.4h-7.4zM305.6,354.2h7.4v5.4h-7.4zM332.7,354.2h7.4v5.4h-7.4zM349.6,354.2h7.4v5.4h-7.4zM433.9,354.2h7.4v5.4h-7.4zM442.4,354.2h7.4v5.4h-7.4zM450.8,354.2h7.4v5.4h-7.4zM509.9,354.2h7.4v5.4h-7.4zM161.5,360.5h7.4v5.4h-7.4zM169.9,360.5h7.4v5.4h-7.4zM178.2,360.5h7.4v5.4h-7.4zM186.6,360.5h7.4v5.4h-7.4zM297.3,360.5h7.4v5.4h-7.4zM349.6,360.5h7.4v5.4h-7.4zM366.4,360.5h7.4v5.4h-7.4zM408.6,360.5h7.4v5.4h-7.4zM161.5,366.7h7.4v5.4h-7.4zM178.2,366.7h7.4v5.4h-7.4zM288.9,366.7h7.4v5.4h-7.4zM341.1,366.7h7.4v5.4h-7.4zM349.6,366.7h7.4v5.4h-7.4zM358.0,366.7h7.4v5.4h-7.4zM366.4,366.7h7.4v5.4h-7.4zM400.2,366.7h7.4v5.4h-7.4zM178.2,373.0h7.4v5.4h-7.4zM186.6,373.0h7.4v5.4h-7.4zM280.5,373.0h7.4v5.4h-7.4zM358.0,373.0h7.4v5.4h-7.4zM366.4,373.0h7.4v5.4h-7.4zM161.5,379.3h7.4v5.4h-7.4zM186.6,379.3h7.4v5.4h-7.4zM280.5,379.3h7.4v5.4h-7.4zM358.0,379.3h7.4v5.4h-7.4zM391.7,379.3h7.4v5.4h-7.4zM161.5,385.5h7.4v5.4h-7.4zM178.2,385.5h7.4v5.4h-7.4zM186.6,385.5h7.4v5.4h-7.4zM341.1,385.5h7.4v5.4h-7.4zM358.0,385.5h7.4v5.4h-7.4zM493.0,385.5h7.4v5.4h-7.4zM169.9,391.8h7.4v5.4h-7.4zM178.2,391.8h7.4v5.4h-7.4zM280.5,391.8h7.4v5.4h-7.4zM305.6,391.8h7.4v5.4h-7.4zM358.0,391.8h7.4v5.4h-7.4zM400.2,391.8h7.4v5.4h-7.4zM161.5,398.1h7.4v5.4h-7.4zM169.9,398.1h7.4v5.4h-7.4zM280.5,398.1h7.4v5.4h-7.4zM297.3,398.1h7.4v5.4h-7.4zM305.6,398.1h7.4v5.4h-7.4zM315.8,398.1h7.4v5.4h-7.4zM467.7,398.1h7.4v5.4h-7.4zM161.5,404.3h7.4v5.4h-7.4zM186.6,404.3h7.4v5.4h-7.4zM288.9,404.3h7.4v5.4h-7.4zM178.2,410.6h7.4v5.4h-7.4zM186.6,410.6h7.4v5.4h-7.4zM280.5,410.6h7.4v5.4h-7.4zM358.0,410.6h7.4v5.4h-7.4zM442.4,410.6h7.4v5.4h-7.4zM161.5,416.9h7.4v5.4h-7.4zM280.5,416.9h7.4v5.4h-7.4zM358.0,416.9h7.4v5.4h-7.4zM493.0,416.9h7.4v5.4h-7.4zM161.5,423.1h7.4v5.4h-7.4zM288.9,423.1h7.4v5.4h-7.4zM297.3,423.1h7.4v5.4h-7.4zM305.6,423.1h7.4v5.4h-7.4zM467.7,423.1h7.4v5.4h-7.4zM297.3,429.4h7.4v5.4h-7.4zM374.9,429.4h7.4v5.4h-7.4zM391.7,429.4h7.4v5.4h-7.4zM161.5,435.7h7.4v5.4h-7.4zM178.2,435.7h7.4v5.4h-7.4zM186.6,435.7h7.4v5.4h-7.4zM280.5,435.7h7.4v5.4h-7.4zM467.7,435.7h7.4v5.4h-7.4zM476.1,435.7h7.4v5.4h-7.4zM178.2,441.9h7.4v5.4h-7.4zM186.6,441.9h7.4v5.4h-7.4zM280.5,441.9h7.4v5.4h-7.4zM332.7,441.9h7.4v5.4h-7.4zM358.0,441.9h7.4v5.4h-7.4zM391.7,441.9h7.4v5.4h-7.4zM476.1,441.9h7.4v5.4h-7.4zM493.0,441.9h7.4v5.4h-7.4zM169.9,448.2h7.4v5.4h-7.4zM178.2,448.2h7.4v5.4h-7.4zM186.6,448.2h7.4v5.4h-7.4zM280.5,448.2h7.4v5.4h-7.4zM332.7,448.2h7.4v5.4h-7.4zM358.0,448.2h7.4v5.4h-7.4zM391.7,448.2h7.4v5.4h-7.4zM169.9,454.5h7.4v5.4h-7.4zM280.5,454.5h7.4v5.4h-7.4zM288.9,454.5h7.4v5.4h-7.4zM297.3,454.5h7.4v5.4h-7.4zM315.8,454.5h7.4v5.4h-7.4zM417.0,454.5h7.4v5.4h-7.4zM442.4,454.5h7.4v5.4h-7.4zM459.2,454.5h7.4v5.4h-7.4zM305.6,460.7h7.4v5.4h-7.4zM349.6,460.7h7.4v5.4h-7.4zM408.6,460.7h7.4v5.4h-7.4zM161.5,467.0h7.4v5.4h-7.4zM186.6,467.0h7.4v5.4h-7.4zM366.4,467.0h7.4v5.4h-7.4zM383.3,467.0h7.4v5.4h-7.4zM433.9,467.0h7.4v5.4h-7.4zM493.0,467.0h7.4v5.4h-7.4zM280.5,473.3h7.4v5.4h-7.4zM366.4,473.3h7.4v5.4h-7.4zM459.2,473.3h7.4v5.4h-7.4zM280.5,479.5h7.4v5.4h-7.4zM288.9,479.5h7.4v5.4h-7.4zM297.3,479.5h7.4v5.4h-7.4zM425.5,479.5h7.4v5.4h-7.4zM493.0,479.5h7.4v5.4h-7.4zM280.5,485.8h7.4v5.4h-7.4zM358.0,485.8h7.4v5.4h-7.4zM459.2,485.8h7.4v5.4h-7.4zM493.0,485.8h7.4v5.4h-7.4zM161.5,492.1h7.4v5.4h-7.4zM509.9,492.1h7.4v5.4h-7.4zM161.5,498.3h7.4v5.4h-7.4zM178.2,498.3h7.4v5.4h-7.4zM305.6,498.3h7.4v5.4h-7.4zM324.2,498.3h7.4v5.4h-7.4zM358.0,498.3h7.4v5.4h-7.4zM433.9,498.3h7.4v5.4h-7.4zM161.5,504.6h7.4v5.4h-7.4zM169.9,504.6h7.4v5.4h-7.4zM374.9,504.6h7.4v5.4h-7.4zM425.5,504.6h7.4v5.4h-7.4zM433.9,504.6h7.4v5.4h-7.4zM459.2,504.6h7.4v5.4h-7.4zM493.0,504.6h7.4v5.4h-7.4zM288.9,510.9h7.4v5.4h-7.4zM297.3,510.9h7.4v5.4h-7.4zM383.3,510.9h7.4v5.4h-7.4zM417.0,510.9h7.4v5.4h-7.4zM442.4,510.9h7.4v5.4h-7.4zM509.9,510.9h7.4v5.4h-7.4zM169.9,517.1h7.4v5.4h-7.4zM178.2,517.1h7.4v5.4h-7.4zM280.5,517.1h7.4v5.4h-7.4zM288.9,517.1h7.4v5.4h-7.4zM383.3,517.1h7.4v5.4h-7.4zM417.0,517.1h7.4v5.4h-7.4zM467.7,517.1h7.4v5.4h-7.4zM178.2,523.4h7.4v5.4h-7.4zM186.6,523.4h7.4v5.4h-7.4zM280.5,523.4h7.4v5.4h-7.4zM374.9,523.4h7.4v5.4h-7.4zM417.0,523.4h7.4v5.4h-7.4zM509.9,523.4h7.4v5.4h-7.4zM332.7,529.7h7.4v5.4h-7.4zM366.4,529.7h7.4v5.4h-7.4zM374.9,529.7h7.4v5.4h-7.4zM433.9,529.7h7.4v5.4h-7.4zM450.8,529.7h7.4v5.4h-7.4zM280.5,535.9h7.4v5.4h-7.4zM332.7,535.9h7.4v5.4h-7.4zM374.9,535.9h7.4v5.4h-7.4zM433.9,535.9h7.4v5.4h-7.4zM297.3,542.2h7.4v5.4h-7.4zM305.6,542.2h7.4v5.4h-7.4zM366.4,542.2h7.4v5.4h-7.4zM408.6,542.2h7.4v5.4h-7.4zM417.0,542.2h7.4v5.4h-7.4zM425.5,542.2h7.4v5.4h-7.4zM484.5,542.2h7.4v5.4h-7.4zM501.4,542.2h7.4v5.4h-7.4zM161.5,548.5h7.4v5.4h-7.4zM169.9,548.5h7.4v5.4h-7.4zM280.5,548.5h7.4v5.4h-7.4zM288.9,548.5h7.4v5.4h-7.4zM358.0,548.5h7.4v5.4h-7.4zM374.9,548.5h7.4v5.4h-7.4zM288.9,554.7h7.4v5.4h-7.4zM341.1,554.7h7.4v5.4h-7.4zM408.6,554.7h7.4v5.4h-7.4zM442.4,554.7h7.4v5.4h-7.4zM493.0,554.7h7.4v5.4h-7.4zM509.9,554.7h7.4v5.4h-7.4zM305.6,561.0h7.4v5.4h-7.4zM391.7,561.0h7.4v5.4h-7.4zM433.9,561.0h7.4v5.4h-7.4zM442.4,561.0h7.4v5.4h-7.4zM493.0,561.0h7.4v5.4h-7.4zM169.9,567.3h7.4v5.4h-7.4zM178.2,567.3h7.4v5.4h-7.4zM186.6,567.3h7.4v5.4h-7.4zM280.5,567.3h7.4v5.4h-7.4zM288.9,567.3h7.4v5.4h-7.4zM341.1,567.3h7.4v5.4h-7.4zM366.4,567.3h7.4v5.4h-7.4zM391.7,567.3h7.4v5.4h-7.4zM280.5,573.5h7.4v5.4h-7.4zM288.9,573.5h7.4v5.4h-7.4zM341.1,573.5h7.4v5.4h-7.4zM383.3,573.5h7.4v5.4h-7.4zM425.5,573.5h7.4v5.4h-7.4zM433.9,573.5h7.4v5.4h-7.4zM476.1,573.5h7.4v5.4h-7.4zM501.4,573.5h7.4v5.4h-7.4zM178.2,579.8h7.4v5.4h-7.4zM305.6,579.8h7.4v5.4h-7.4zM341.1,579.8h7.4v5.4h-7.4zM358.0,579.8h7.4v5.4h-7.4zM374.9,579.8h7.4v5.4h-7.4zM383.3,579.8h7.4v5.4h-7.4zM391.7,579.8h7.4v5.4h-7.4zM408.6,579.8h7.4v5.4h-7.4zM433.9,579.8h7.4v5.4h-7.4zM442.4,579.8h7.4v5.4h-7.4zM450.8,579.8h7.4v5.4h-7.4zM493.0,579.8h7.4v5.4h-7.4zM169.9,586.1h7.4v5.4h-7.4zM178.2,586.1h7.4v5.4h-7.4zM288.9,586.1h7.4v5.4h-7.4zM305.6,586.1h7.4v5.4h-7.4zM366.4,586.1h7.4v5.4h-7.4zM391.7,586.1h7.4v5.4h-7.4zM408.6,586.1h7.4v5.4h-7.4zM442.4,586.1h7.4v5.4h-7.4zM169.9,594.4h7.4v5.3h-7.4zM186.6,594.4h7.4v5.3h-7.4zM272.1,594.4h7.4v5.3h-7.4zM315.8,594.4h7.4v5.3h-7.4zM324.2,594.4h7.4v5.3h-7.4zM341.1,594.4h7.4v5.3h-7.4zM408.6,594.4h7.4v5.3h-7.4zM433.9,594.4h7.4v5.3h-7.4zM442.4,594.4h7.4v5.3h-7.4zM450.8,594.4h7.4v5.3h-7.4zM467.7,594.4h7.4v5.3h-7.4zM476.1,594.4h7.4v5.3h-7.4zM484.5,594.4h7.4v5.3h-7.4zM501.4,594.4h7.4v5.3h-7.4zM509.9,594.4h7.4v5.3h-7.4zM255.4,600.6h7.4v5.3h-7.4zM280.5,600.6h7.4v5.3h-7.4zM288.9,600.6h7.4v5.3h-7.4zM383.3,600.6h7.4v5.3h-7.4zM391.7,600.6h7.4v5.3h-7.4zM408.6,600.6h7.4v5.3h-7.4zM417.0,600.6h7.4v5.3h-7.4zM425.5,600.6h7.4v5.3h-7.4zM433.9,600.6h7.4v5.3h-7.4zM442.4,600.6h7.4v5.3h-7.4zM467.7,600.6h7.4v5.3h-7.4zM476.1,600.6h7.4v5.3h-7.4zM484.5,600.6h7.4v5.3h-7.4zM501.4,600.6h7.4v5.3h-7.4zM205.2,606.8h7.4v5.3h-7.4zM332.7,606.8h7.4v5.3h-7.4zM400.2,606.8h7.4v5.3h-7.4zM425.5,606.8h7.4v5.3h-7.4zM433.9,606.8h7.4v5.3h-7.4zM467.7,606.8h7.4v5.3h-7.4zM484.5,606.8h7.4v5.3h-7.4zM280.5,613.0h7.4v5.3h-7.4zM332.7,613.0h7.4v5.3h-7.4zM467.7,613.0h7.4v5.3h-7.4zM484.5,613.0h7.4v5.3h-7.4zM408.6,619.1h7.4v5.3h-7.4zM467.7,619.1h7.4v5.3h-7.4zM484.5,619.1h7.4v5.3h-7.4zM509.9,619.1h7.4v5.3h-7.4zM205.2,625.3h7.4v5.3h-7.4zM467.7,625.3h7.4v5.3h-7.4zM476.1,625.3h7.4v5.3h-7.4zM484.5,625.3h7.4v5.3h-7.4zM238.7,631.5h7.4v5.3h-7.4zM247.0,631.5h7.4v5.3h-7.4zM280.5,631.5h7.4v5.3h-7.4zM358.0,631.5h7.4v5.3h-7.4zM366.4,631.5h7.4v5.3h-7.4zM400.2,631.5h7.4v5.3h-7.4zM408.6,631.5h7.4v5.3h-7.4zM417.0,631.5h7.4v5.3h-7.4zM425.5,631.5h7.4v5.3h-7.4zM476.1,631.5h7.4v5.3h-7.4zM484.5,631.5h7.4v5.3h-7.4zM280.5,637.7h7.4v5.3h-7.4zM315.8,637.7h7.4v5.3h-7.4zM332.7,637.7h7.4v5.3h-7.4zM358.0,637.7h7.4v5.3h-7.4zM366.4,637.7h7.4v5.3h-7.4zM374.9,637.7h7.4v5.3h-7.4zM383.3,637.7h7.4v5.3h-7.4zM408.6,637.7h7.4v5.3h-7.4zM417.0,637.7h7.4v5.3h-7.4zM425.5,637.7h7.4v5.3h-7.4zM476.1,637.7h7.4v5.3h-7.4zM280.5,643.9h7.4v5.3h-7.4zM324.2,643.9h7.4v5.3h-7.4zM332.7,643.9h7.4v5.3h-7.4zM341.1,643.9h7.4v5.3h-7.4zM358.0,643.9h7.4v5.3h-7.4zM366.4,643.9h7.4v5.3h-7.4zM374.9,643.9h7.4v5.3h-7.4zM383.3,643.9h7.4v5.3h-7.4zM408.6,643.9h7.4v5.3h-7.4zM425.5,643.9h7.4v5.3h-7.4zM280.5,650.0h7.4v5.3h-7.4zM324.2,650.0h7.4v5.3h-7.4zM341.1,650.0h7.4v5.3h-7.4zM366.4,650.0h7.4v5.3h-7.4zM374.9,650.0h7.4v5.3h-7.4zM383.3,650.0h7.4v5.3h-7.4zM391.7,650.0h7.4v5.3h-7.4zM408.6,650.0h7.4v5.3h-7.4zM425.5,650.0h7.4v5.3h-7.4z"/><path fill="#18f41e" d="M349.6,34.6h7.4v5.4h-7.4zM442.4,34.6h7.4v5.4h-7.4zM459.2,34.6h7.4v5.4h-7.4zM196.8,40.9h7.4v5.4h-7.4zM408.6,40.9h7.4v5.4h-7.4zM205.2,47.2h7.4v5.4h-7.4zM221.9,47.2h7.4v5.4h-7.4zM315.8,47.2h7.4v5.4h-7.4zM400.2,47.2h7.4v5.4h-7.4zM442.4,53.4h7.4v5.4h-7.4zM459.2,53.4h7.4v5.4h-7.4zM366.4,59.7h7.4v5.4h-7.4zM400.2,59.7h7.4v5.4h-7.4zM459.2,59.7h7.4v5.4h-7.4zM442.4,66.0h7.4v5.4h-7.4zM459.2,66.0h7.4v5.4h-7.4zM442.4,72.2h7.4v5.4h-7.4zM459.2,72.2h7.4v5.4h-7.4zM178.2,78.5h7.4v5.4h-7.4zM196.8,78.5h7.4v5.4h-7.4zM272.1,78.5h7.4v5.4h-7.4zM332.7,78.5h7.4v5.4h-7.4zM442.4,78.5h7.4v5.4h-7.4zM459.2,78.5h7.4v5.4h-7.4zM442.4,84.8h7.4v5.4h-7.4zM459.2,84.8h7.4v5.4h-7.4zM442.4,91.0h7.4v5.4h-7.4zM459.2,91.0h7.4v5.4h-7.4zM169.9,97.3h7.4v5.4h-7.4zM366.4,97.3h7.4v5.4h-7.4zM442.4,97.3h7.4v5.4h-7.4zM459.2,97.3h7.4v5.4h-7.4zM341.1,103.5h7.4v5.4h-7.4zM442.4,103.5h7.4v5.4h-7.4zM459.2,103.5h7.4v5.4h-7.4zM433.9,109.8h7.4v5.4h-7.4zM442.4,109.8h7.4v5.4h-7.4zM459.2,109.8h7.4v5.4h-7.4zM442.4,116.1h7.4v5.4h-7.4zM459.2,116.1h7.4v5.4h-7.4zM442.4,122.3h7.4v5.4h-7.4zM459.2,122.3h7.4v5.4h-7.4zM169.9,128.6h7.4v5.4h-7.4zM186.6,128.6h7.4v5.4h-7.4zM442.4,134.9h7.4v5.4h-7.4zM459.2,134.9h7.4v5.4h-7.4zM442.4,141.1h7.4v5.4h-7.4zM459.2,141.1h7.4v5.4h-7.4zM161.5,147.4h7.4v5.4h-7.4zM169.9,147.4h7.4v5.4h-7.4zM178.2,147.4h7.4v5.4h-7.4zM186.6,147.4h7.4v5.4h-7.4zM349.6,147.4h7.4v5.4h-7.4zM442.4,153.7h7.4v5.4h-7.4zM459.2,153.7h7.4v5.4h-7.4zM442.4,159.9h7.4v5.4h-7.4zM459.2,159.9h7.4v5.4h-7.4zM349.6,166.2h7.4v5.4h-7.4zM442.4,166.2h7.4v5.4h-7.4zM442.4,172.5h7.4v5.4h-7.4zM459.2,172.5h7.4v5.4h-7.4zM442.4,178.7h7.4v5.4h-7.4zM459.2,178.7h7.4v5.4h-7.4zM332.7,185.0h7.4v5.4h-7.4zM442.4,185.0h7.4v5.4h-7.4zM459.2,185.0h7.4v5.4h-7.4zM442.4,191.3h7.4v5.4h-7.4zM459.2,191.3h7.4v5.4h-7.4zM442.4,197.5h7.4v5.4h-7.4zM459.2,197.5h7.4v5.4h-7.4zM442.4,203.8h7.4v5.4h-7.4zM459.2,203.8h7.4v5.4h-7.4zM442.4,210.1h7.4v5.4h-7.4zM459.2,210.1h7.4v5.4h-7.4zM442.4,216.3h7.4v5.4h-7.4zM459.2,216.3h7.4v5.4h-7.4zM161.5,222.6h7.4v5.4h-7.4zM178.2,222.6h7.4v5.4h-7.4zM186.6,222.6h7.4v5.4h-7.4zM255.4,222.6h7.4v5.4h-7.4zM349.6,222.6h7.4v5.4h-7.4zM161.5,228.9h7.4v5.4h-7.4zM178.2,228.9h7.4v5.4h-7.4zM349.6,228.9h7.4v5.4h-7.4zM476.1,228.9h7.4v5.4h-7.4zM341.1,235.1h7.4v5.4h-7.4zM408.6,235.1h7.4v5.4h-7.4zM476.1,235.1h7.4v5.4h-7.4zM484.5,235.1h7.4v5.4h-7.4zM501.4,235.1h7.4v5.4h-7.4zM161.5,241.4h7.4v5.4h-7.4zM178.2,241.4h7.4v5.4h-7.4zM186.6,241.4h7.4v5.4h-7.4zM255.4,241.4h7.4v5.4h-7.4zM349.6,241.4h7.4v5.4h-7.4zM315.8,247.7h7.4v5.4h-7.4zM459.2,247.7h7.4v5.4h-7.4zM509.9,247.7h7.4v5.4h-7.4zM442.4,253.9h7.4v5.4h-7.4zM459.2,253.9h7.4v5.4h-7.4zM196.8,260.2h7.4v5.4h-7.4zM374.9,260.2h7.4v5.4h-7.4zM383.3,260.2h7.4v5.4h-7.4zM391.7,260.2h7.4v5.4h-7.4zM408.6,260.2h7.4v5.4h-7.4zM169.9,266.5h7.4v5.4h-7.4zM186.6,266.5h7.4v5.4h-7.4zM221.9,266.5h7.4v5.4h-7.4zM315.8,272.7h7.4v5.4h-7.4zM341.1,279.0h7.4v5.4h-7.4zM383.3,279.0h7.4v5.4h-7.4zM450.8,279.0h7.4v5.4h-7.4zM349.6,291.5h7.4v5.4h-7.4zM349.6,297.8h7.4v5.4h-7.4zM442.4,297.8h7.4v5.4h-7.4zM459.2,297.8h7.4v5.4h-7.4zM196.8,304.1h7.4v5.4h-7.4zM315.8,304.1h7.4v5.4h-7.4zM349.6,304.1h7.4v5.4h-7.4zM408.6,304.1h7.4v5.4h-7.4zM476.1,304.1h7.4v5.4h-7.4zM196.8,310.3h7.4v5.4h-7.4zM205.2,310.3h7.4v5.4h-7.4zM315.8,310.3h7.4v5.4h-7.4zM425.5,310.3h7.4v5.4h-7.4zM476.1,310.3h7.4v5.4h-7.4zM442.4,316.6h7.4v5.4h-7.4zM459.2,316.6h7.4v5.4h-7.4zM169.9,322.9h7.4v5.4h-7.4zM459.2,322.9h7.4v5.4h-7.4zM467.7,322.9h7.4v5.4h-7.4zM501.4,322.9h7.4v5.4h-7.4zM509.9,322.9h7.4v5.4h-7.4zM408.6,329.1h7.4v5.4h-7.4zM433.9,329.1h7.4v5.4h-7.4zM501.4,329.1h7.4v5.4h-7.4zM509.9,329.1h7.4v5.4h-7.4zM442.4,335.4h7.4v5.4h-7.4zM459.2,335.4h7.4v5.4h-7.4zM341.1,341.7h7.4v5.4h-7.4zM349.6,341.7h7.4v5.4h-7.4zM476.1,341.7h7.4v5.4h-7.4zM442.4,347.9h7.4v5.4h-7.4zM315.8,354.2h7.4v5.4h-7.4zM408.6,354.2h7.4v5.4h-7.4zM255.4,360.5h7.4v5.4h-7.4zM425.5,366.7h7.4v5.4h-7.4zM230.3,373.0h7.4v5.4h-7.4zM400.2,373.0h7.4v5.4h-7.4zM408.6,373.0h7.4v5.4h-7.4zM484.5,373.0h7.4v5.4h-7.4zM509.9,373.0h7.4v5.4h-7.4zM433.9,379.3h7.4v5.4h-7.4zM442.4,379.3h7.4v5.4h-7.4zM442.4,385.5h7.4v5.4h-7.4zM459.2,385.5h7.4v5.4h-7.4zM205.2,391.8h7.4v5.4h-7.4zM408.6,391.8h7.4v5.4h-7.4zM459.2,391.8h7.4v5.4h-7.4zM501.4,391.8h7.4v5.4h-7.4zM391.7,398.1h7.4v5.4h-7.4zM400.2,398.1h7.4v5.4h-7.4zM408.6,398.1h7.4v5.4h-7.4zM450.8,398.1h7.4v5.4h-7.4zM442.4,404.3h7.4v5.4h-7.4zM459.2,404.3h7.4v5.4h-7.4zM391.7,410.6h7.4v5.4h-7.4zM408.6,410.6h7.4v5.4h-7.4zM433.9,416.9h7.4v5.4h-7.4zM442.4,416.9h7.4v5.4h-7.4zM459.2,416.9h7.4v5.4h-7.4zM408.6,423.1h7.4v5.4h-7.4zM509.9,423.1h7.4v5.4h-7.4zM221.9,429.4h7.4v5.4h-7.4zM349.6,429.4h7.4v5.4h-7.4zM417.0,429.4h7.4v5.4h-7.4zM442.4,441.9h7.4v5.4h-7.4zM459.2,441.9h7.4v5.4h-7.4zM501.4,441.9h7.4v5.4h-7.4zM509.9,441.9h7.4v5.4h-7.4zM442.4,448.2h7.4v5.4h-7.4zM459.2,448.2h7.4v5.4h-7.4zM205.2,454.5h7.4v5.4h-7.4zM391.7,454.5h7.4v5.4h-7.4zM408.6,454.5h7.4v5.4h-7.4zM178.2,460.7h7.4v5.4h-7.4zM196.8,460.7h7.4v5.4h-7.4zM349.6,467.0h7.4v5.4h-7.4zM400.2,467.0h7.4v5.4h-7.4zM374.9,473.3h7.4v5.4h-7.4zM408.6,473.3h7.4v5.4h-7.4zM476.1,473.3h7.4v5.4h-7.4zM221.9,479.5h7.4v5.4h-7.4zM230.3,479.5h7.4v5.4h-7.4zM341.1,485.8h7.4v5.4h-7.4zM433.9,485.8h7.4v5.4h-7.4zM442.4,485.8h7.4v5.4h-7.4zM442.4,492.1h7.4v5.4h-7.4zM459.2,492.1h7.4v5.4h-7.4zM196.8,498.3h7.4v5.4h-7.4zM315.8,498.3h7.4v5.4h-7.4zM391.7,498.3h7.4v5.4h-7.4zM425.5,498.3h7.4v5.4h-7.4zM476.1,498.3h7.4v5.4h-7.4zM484.5,498.3h7.4v5.4h-7.4zM255.4,504.6h7.4v5.4h-7.4zM349.6,504.6h7.4v5.4h-7.4zM417.0,504.6h7.4v5.4h-7.4zM161.5,510.9h7.4v5.4h-7.4zM178.2,510.9h7.4v5.4h-7.4zM263.8,510.9h7.4v5.4h-7.4zM442.4,517.1h7.4v5.4h-7.4zM459.2,517.1h7.4v5.4h-7.4zM297.3,529.7h7.4v5.4h-7.4zM383.3,529.7h7.4v5.4h-7.4zM493.0,529.7h7.4v5.4h-7.4zM178.2,535.9h7.4v5.4h-7.4zM196.8,535.9h7.4v5.4h-7.4zM263.8,535.9h7.4v5.4h-7.4zM349.6,535.9h7.4v5.4h-7.4zM349.6,542.2h7.4v5.4h-7.4zM433.9,548.5h7.4v5.4h-7.4zM442.4,548.5h7.4v5.4h-7.4zM459.2,548.5h7.4v5.4h-7.4zM186.6,554.7h7.4v5.4h-7.4zM255.4,561.0h7.4v5.4h-7.4zM349.6,561.0h7.4v5.4h-7.4zM417.0,561.0h7.4v5.4h-7.4zM442.4,567.3h7.4v5.4h-7.4zM459.2,567.3h7.4v5.4h-7.4zM230.3,573.5h7.4v5.4h-7.4zM196.8,594.4h7.4v5.3h-7.4zM221.9,594.4h7.4v5.3h-7.4zM221.9,600.6h7.4v5.3h-7.4zM238.7,600.6h7.4v5.3h-7.4zM349.6,600.6h7.4v5.3h-7.4zM221.9,606.8h7.4v5.3h-7.4zM349.6,606.8h7.4v5.3h-7.4zM305.6,613.0h7.4v5.3h-7.4zM349.6,613.0h7.4v5.3h-7.4zM196.8,619.1h7.4v5.3h-7.4zM247.0,619.1h7.4v5.3h-7.4zM221.9,625.3h7.4v5.3h-7.4zM349.6,625.3h7.4v5.3h-7.4zM196.8,631.5h7.4v5.3h-7.4zM230.3,631.5h7.4v5.3h-7.4zM205.2,637.7h7.4v5.3h-7.4zM221.9,637.7h7.4v5.3h-7.4zM349.6,637.7h7.4v5.3h-7.4zM196.8,643.9h7.4v5.3h-7.4zM221.9,643.9h7.4v5.3h-7.4zM196.8,650.0h7.4v5.3h-7.4zM221.9,650.0h7.4v5.3h-7.4z"/><path fill="#07600c" d="M417.0,34.6h7.4v5.4h-7.4zM425.5,34.6h7.4v5.4h-7.4zM501.4,34.6h7.4v5.4h-7.4zM450.8,40.9h7.4v5.4h-7.4zM476.1,40.9h7.4v5.4h-7.4zM425.5,47.2h7.4v5.4h-7.4zM433.9,47.2h7.4v5.4h-7.4zM450.8,47.2h7.4v5.4h-7.4zM493.0,47.2h7.4v5.4h-7.4zM400.2,53.4h7.4v5.4h-7.4zM408.6,53.4h7.4v5.4h-7.4zM450.8,53.4h7.4v5.4h-7.4zM467.7,53.4h7.4v5.4h-7.4zM476.1,53.4h7.4v5.4h-7.4zM501.4,53.4h7.4v5.4h-7.4zM408.6,59.7h7.4v5.4h-7.4zM417.0,59.7h7.4v5.4h-7.4zM450.8,59.7h7.4v5.4h-7.4zM476.1,59.7h7.4v5.4h-7.4zM493.0,59.7h7.4v5.4h-7.4zM417.0,66.0h7.4v5.4h-7.4zM450.8,66.0h7.4v5.4h-7.4zM467.7,66.0h7.4v5.4h-7.4zM501.4,66.0h7.4v5.4h-7.4zM509.9,66.0h7.4v5.4h-7.4zM400.2,72.2h7.4v5.4h-7.4zM417.0,72.2h7.4v5.4h-7.4zM425.5,72.2h7.4v5.4h-7.4zM450.8,72.2h7.4v5.4h-7.4zM425.5,84.8h7.4v5.4h-7.4zM450.8,84.8h7.4v5.4h-7.4zM493.0,84.8h7.4v5.4h-7.4zM400.2,91.0h7.4v5.4h-7.4zM408.6,91.0h7.4v5.4h-7.4zM417.0,91.0h7.4v5.4h-7.4zM425.5,91.0h7.4v5.4h-7.4zM433.9,91.0h7.4v5.4h-7.4zM450.8,91.0h7.4v5.4h-7.4zM467.7,91.0h7.4v5.4h-7.4zM501.4,91.0h7.4v5.4h-7.4zM509.9,91.0h7.4v5.4h-7.4zM484.5,97.3h7.4v5.4h-7.4zM501.4,97.3h7.4v5.4h-7.4zM509.9,97.3h7.4v5.4h-7.4zM400.2,103.5h7.4v5.4h-7.4zM425.5,103.5h7.4v5.4h-7.4zM408.6,109.8h7.4v5.4h-7.4zM476.1,109.8h7.4v5.4h-7.4zM484.5,109.8h7.4v5.4h-7.4zM493.0,109.8h7.4v5.4h-7.4zM400.2,116.1h7.4v5.4h-7.4zM425.5,116.1h7.4v5.4h-7.4zM476.1,116.1h7.4v5.4h-7.4zM493.0,116.1h7.4v5.4h-7.4zM509.9,116.1h7.4v5.4h-7.4zM400.2,122.3h7.4v5.4h-7.4zM408.6,122.3h7.4v5.4h-7.4zM425.5,122.3h7.4v5.4h-7.4zM450.8,122.3h7.4v5.4h-7.4zM467.7,122.3h7.4v5.4h-7.4zM476.1,122.3h7.4v5.4h-7.4zM484.5,122.3h7.4v5.4h-7.4zM509.9,122.3h7.4v5.4h-7.4zM425.5,134.9h7.4v5.4h-7.4zM476.1,134.9h7.4v5.4h-7.4zM484.5,134.9h7.4v5.4h-7.4zM509.9,134.9h7.4v5.4h-7.4zM408.6,141.1h7.4v5.4h-7.4zM425.5,141.1h7.4v5.4h-7.4zM467.7,141.1h7.4v5.4h-7.4zM476.1,141.1h7.4v5.4h-7.4zM442.4,147.4h7.4v5.4h-7.4zM459.2,147.4h7.4v5.4h-7.4zM425.5,153.7h7.4v5.4h-7.4zM433.9,153.7h7.4v5.4h-7.4zM467.7,153.7h7.4v5.4h-7.4zM476.1,153.7h7.4v5.4h-7.4zM484.5,153.7h7.4v5.4h-7.4zM501.4,153.7h7.4v5.4h-7.4zM509.9,153.7h7.4v5.4h-7.4zM417.0,159.9h7.4v5.4h-7.4zM467.7,159.9h7.4v5.4h-7.4zM476.1,159.9h7.4v5.4h-7.4zM484.5,159.9h7.4v5.4h-7.4zM509.9,159.9h7.4v5.4h-7.4zM408.6,166.2h7.4v5.4h-7.4zM417.0,166.2h7.4v5.4h-7.4zM425.5,166.2h7.4v5.4h-7.4zM433.9,166.2h7.4v5.4h-7.4zM450.8,166.2h7.4v5.4h-7.4zM459.2,166.2h7.4v5.4h-7.4zM476.1,166.2h7.4v5.4h-7.4zM484.5,166.2h7.4v5.4h-7.4zM501.4,166.2h7.4v5.4h-7.4zM509.9,166.2h7.4v5.4h-7.4zM400.2,172.5h7.4v5.4h-7.4zM425.5,172.5h7.4v5.4h-7.4zM467.7,172.5h7.4v5.4h-7.4zM476.1,172.5h7.4v5.4h-7.4zM425.5,178.7h7.4v5.4h-7.4zM467.7,178.7h7.4v5.4h-7.4zM476.1,178.7h7.4v5.4h-7.4zM484.5,178.7h7.4v5.4h-7.4zM501.4,178.7h7.4v5.4h-7.4zM509.9,178.7h7.4v5.4h-7.4zM425.5,185.0h7.4v5.4h-7.4zM467.7,185.0h7.4v5.4h-7.4zM476.1,185.0h7.4v5.4h-7.4zM484.5,185.0h7.4v5.4h-7.4zM501.4,185.0h7.4v5.4h-7.4zM509.9,185.0h7.4v5.4h-7.4zM400.2,191.3h7.4v5.4h-7.4zM408.6,191.3h7.4v5.4h-7.4zM425.5,191.3h7.4v5.4h-7.4zM467.7,191.3h7.4v5.4h-7.4zM476.1,191.3h7.4v5.4h-7.4zM484.5,191.3h7.4v5.4h-7.4zM493.0,191.3h7.4v5.4h-7.4zM408.6,197.5h7.4v5.4h-7.4zM425.5,197.5h7.4v5.4h-7.4zM467.7,197.5h7.4v5.4h-7.4zM484.5,197.5h7.4v5.4h-7.4zM501.4,197.5h7.4v5.4h-7.4zM509.9,197.5h7.4v5.4h-7.4zM400.2,203.8h7.4v5.4h-7.4zM408.6,203.8h7.4v5.4h-7.4zM417.0,203.8h7.4v5.4h-7.4zM425.5,203.8h7.4v5.4h-7.4zM467.7,203.8h7.4v5.4h-7.4zM484.5,203.8h7.4v5.4h-7.4zM408.6,210.1h7.4v5.4h-7.4zM425.5,210.1h7.4v5.4h-7.4zM433.9,210.1h7.4v5.4h-7.4zM467.7,210.1h7.4v5.4h-7.4zM476.1,210.1h7.4v5.4h-7.4zM484.5,210.1h7.4v5.4h-7.4zM501.4,210.1h7.4v5.4h-7.4zM509.9,210.1h7.4v5.4h-7.4zM433.9,216.3h7.4v5.4h-7.4zM467.7,216.3h7.4v5.4h-7.4zM476.1,216.3h7.4v5.4h-7.4zM484.5,216.3h7.4v5.4h-7.4zM501.4,216.3h7.4v5.4h-7.4zM442.4,222.6h7.4v5.4h-7.4zM467.7,222.6h7.4v5.4h-7.4zM408.6,228.9h7.4v5.4h-7.4zM425.5,228.9h7.4v5.4h-7.4zM467.7,228.9h7.4v5.4h-7.4zM484.5,228.9h7.4v5.4h-7.4zM400.2,235.1h7.4v5.4h-7.4zM450.8,235.1h7.4v5.4h-7.4zM509.9,235.1h7.4v5.4h-7.4zM315.8,241.4h7.4v5.4h-7.4zM341.1,241.4h7.4v5.4h-7.4zM358.0,241.4h7.4v5.4h-7.4zM332.7,247.7h7.4v5.4h-7.4zM349.6,247.7h7.4v5.4h-7.4zM425.5,247.7h7.4v5.4h-7.4zM433.9,247.7h7.4v5.4h-7.4zM442.4,247.7h7.4v5.4h-7.4zM484.5,247.7h7.4v5.4h-7.4zM493.0,247.7h7.4v5.4h-7.4zM315.8,253.9h7.4v5.4h-7.4zM425.5,253.9h7.4v5.4h-7.4zM476.1,253.9h7.4v5.4h-7.4zM501.4,253.9h7.4v5.4h-7.4zM509.9,253.9h7.4v5.4h-7.4zM349.6,260.2h7.4v5.4h-7.4zM417.0,260.2h7.4v5.4h-7.4zM501.4,260.2h7.4v5.4h-7.4zM324.2,266.5h7.4v5.4h-7.4zM374.9,266.5h7.4v5.4h-7.4zM383.3,266.5h7.4v5.4h-7.4zM391.7,266.5h7.4v5.4h-7.4zM400.2,266.5h7.4v5.4h-7.4zM408.6,266.5h7.4v5.4h-7.4zM476.1,266.5h7.4v5.4h-7.4zM484.5,266.5h7.4v5.4h-7.4zM332.7,272.7h7.4v5.4h-7.4zM341.1,272.7h7.4v5.4h-7.4zM358.0,272.7h7.4v5.4h-7.4zM366.4,272.7h7.4v5.4h-7.4zM383.3,272.7h7.4v5.4h-7.4zM400.2,272.7h7.4v5.4h-7.4zM417.0,272.7h7.4v5.4h-7.4zM433.9,272.7h7.4v5.4h-7.4zM476.1,272.7h7.4v5.4h-7.4zM501.4,272.7h7.4v5.4h-7.4zM374.9,279.0h7.4v5.4h-7.4zM408.6,279.0h7.4v5.4h-7.4zM476.1,279.0h7.4v5.4h-7.4zM493.0,279.0h7.4v5.4h-7.4zM358.0,285.3h7.4v5.4h-7.4zM366.4,285.3h7.4v5.4h-7.4zM374.9,285.3h7.4v5.4h-7.4zM400.2,285.3h7.4v5.4h-7.4zM408.6,285.3h7.4v5.4h-7.4zM425.5,285.3h7.4v5.4h-7.4zM433.9,285.3h7.4v5.4h-7.4zM450.8,285.3h7.4v5.4h-7.4zM476.1,285.3h7.4v5.4h-7.4zM509.9,285.3h7.4v5.4h-7.4zM324.2,291.5h7.4v5.4h-7.4zM341.1,291.5h7.4v5.4h-7.4zM366.4,291.5h7.4v5.4h-7.4zM391.7,291.5h7.4v5.4h-7.4zM417.0,291.5h7.4v5.4h-7.4zM425.5,291.5h7.4v5.4h-7.4zM450.8,291.5h7.4v5.4h-7.4zM459.2,291.5h7.4v5.4h-7.4zM467.7,291.5h7.4v5.4h-7.4zM501.4,291.5h7.4v5.4h-7.4zM358.0,297.8h7.4v5.4h-7.4zM383.3,297.8h7.4v5.4h-7.4zM391.7,297.8h7.4v5.4h-7.4zM425.5,297.8h7.4v5.4h-7.4zM476.1,297.8h7.4v5.4h-7.4zM484.5,297.8h7.4v5.4h-7.4zM501.4,297.8h7.4v5.4h-7.4zM509.9,297.8h7.4v5.4h-7.4zM341.1,304.1h7.4v5.4h-7.4zM383.3,304.1h7.4v5.4h-7.4zM391.7,304.1h7.4v5.4h-7.4zM450.8,304.1h7.4v5.4h-7.4zM484.5,304.1h7.4v5.4h-7.4zM509.9,304.1h7.4v5.4h-7.4zM374.9,310.3h7.4v5.4h-7.4zM400.2,310.3h7.4v5.4h-7.4zM417.0,310.3h7.4v5.4h-7.4zM433.9,310.3h7.4v5.4h-7.4zM501.4,310.3h7.4v5.4h-7.4zM509.9,310.3h7.4v5.4h-7.4zM332.7,316.6h7.4v5.4h-7.4zM349.6,316.6h7.4v5.4h-7.4zM366.4,316.6h7.4v5.4h-7.4zM425.5,316.6h7.4v5.4h-7.4zM476.1,316.6h7.4v5.4h-7.4zM484.5,316.6h7.4v5.4h-7.4zM493.0,316.6h7.4v5.4h-7.4zM501.4,316.6h7.4v5.4h-7.4zM315.8,322.9h7.4v5.4h-7.4zM358.0,322.9h7.4v5.4h-7.4zM417.0,322.9h7.4v5.4h-7.4zM433.9,322.9h7.4v5.4h-7.4zM315.8,329.1h7.4v5.4h-7.4zM341.1,329.1h7.4v5.4h-7.4zM391.7,329.1h7.4v5.4h-7.4zM484.5,329.1h7.4v5.4h-7.4zM493.0,329.1h7.4v5.4h-7.4zM315.8,335.4h7.4v5.4h-7.4zM400.2,335.4h7.4v5.4h-7.4zM425.5,335.4h7.4v5.4h-7.4zM467.7,335.4h7.4v5.4h-7.4zM484.5,335.4h7.4v5.4h-7.4zM493.0,335.4h7.4v5.4h-7.4zM509.9,335.4h7.4v5.4h-7.4zM315.8,341.7h7.4v5.4h-7.4zM417.0,341.7h7.4v5.4h-7.4zM425.5,341.7h7.4v5.4h-7.4zM442.4,341.7h7.4v5.4h-7.4zM459.2,341.7h7.4v5.4h-7.4zM509.9,341.7h7.4v5.4h-7.4zM315.8,347.9h7.4v5.4h-7.4zM425.5,347.9h7.4v5.4h-7.4zM433.9,347.9h7.4v5.4h-7.4zM459.2,347.9h7.4v5.4h-7.4zM484.5,347.9h7.4v5.4h-7.4zM501.4,347.9h7.4v5.4h-7.4zM509.9,347.9h7.4v5.4h-7.4zM324.2,354.2h7.4v5.4h-7.4zM358.0,354.2h7.4v5.4h-7.4zM374.9,354.2h7.4v5.4h-7.4zM391.7,354.2h7.4v5.4h-7.4zM400.2,354.2h7.4v5.4h-7.4zM417.0,354.2h7.4v5.4h-7.4zM476.1,354.2h7.4v5.4h-7.4zM433.9,360.5h7.4v5.4h-7.4zM459.2,360.5h7.4v5.4h-7.4zM476.1,360.5h7.4v5.4h-7.4zM484.5,360.5h7.4v5.4h-7.4zM501.4,360.5h7.4v5.4h-7.4zM509.9,360.5h7.4v5.4h-7.4zM324.2,366.7h7.4v5.4h-7.4zM442.4,366.7h7.4v5.4h-7.4zM459.2,366.7h7.4v5.4h-7.4zM476.1,366.7h7.4v5.4h-7.4zM501.4,366.7h7.4v5.4h-7.4zM315.8,373.0h7.4v5.4h-7.4zM341.1,373.0h7.4v5.4h-7.4zM349.6,373.0h7.4v5.4h-7.4zM391.7,373.0h7.4v5.4h-7.4zM417.0,373.0h7.4v5.4h-7.4zM425.5,373.0h7.4v5.4h-7.4zM433.9,373.0h7.4v5.4h-7.4zM450.8,373.0h7.4v5.4h-7.4zM476.1,373.0h7.4v5.4h-7.4zM315.8,379.3h7.4v5.4h-7.4zM341.1,379.3h7.4v5.4h-7.4zM400.2,379.3h7.4v5.4h-7.4zM417.0,379.3h7.4v5.4h-7.4zM425.5,379.3h7.4v5.4h-7.4zM476.1,379.3h7.4v5.4h-7.4zM493.0,379.3h7.4v5.4h-7.4zM315.8,385.5h7.4v5.4h-7.4zM349.6,385.5h7.4v5.4h-7.4zM366.4,385.5h7.4v5.4h-7.4zM374.9,385.5h7.4v5.4h-7.4zM408.6,385.5h7.4v5.4h-7.4zM425.5,385.5h7.4v5.4h-7.4zM433.9,385.5h7.4v5.4h-7.4zM467.7,385.5h7.4v5.4h-7.4zM476.1,385.5h7.4v5.4h-7.4zM484.5,385.5h7.4v5.4h-7.4zM501.4,385.5h7.4v5.4h-7.4zM509.9,385.5h7.4v5.4h-7.4zM341.1,391.8h7.4v5.4h-7.4zM349.6,391.8h7.4v5.4h-7.4zM425.5,391.8h7.4v5.4h-7.4zM442.4,391.8h7.4v5.4h-7.4zM450.8,391.8h7.4v5.4h-7.4zM476.1,391.8h7.4v5.4h-7.4zM484.5,391.8h7.4v5.4h-7.4zM349.6,398.1h7.4v5.4h-7.4zM358.0,398.1h7.4v5.4h-7.4zM417.0,398.1h7.4v5.4h-7.4zM459.2,398.1h7.4v5.4h-7.4zM501.4,398.1h7.4v5.4h-7.4zM315.8,404.3h7.4v5.4h-7.4zM332.7,404.3h7.4v5.4h-7.4zM349.6,404.3h7.4v5.4h-7.4zM408.6,404.3h7.4v5.4h-7.4zM417.0,404.3h7.4v5.4h-7.4zM425.5,404.3h7.4v5.4h-7.4zM476.1,404.3h7.4v5.4h-7.4zM484.5,404.3h7.4v5.4h-7.4zM509.9,404.3h7.4v5.4h-7.4zM315.8,410.6h7.4v5.4h-7.4zM332.7,410.6h7.4v5.4h-7.4zM383.3,410.6h7.4v5.4h-7.4zM400.2,410.6h7.4v5.4h-7.4zM417.0,410.6h7.4v5.4h-7.4zM425.5,410.6h7.4v5.4h-7.4zM433.9,410.6h7.4v5.4h-7.4zM459.2,410.6h7.4v5.4h-7.4zM476.1,410.6h7.4v5.4h-7.4zM484.5,410.6h7.4v5.4h-7.4zM324.2,416.9h7.4v5.4h-7.4zM332.7,416.9h7.4v5.4h-7.4zM400.2,416.9h7.4v5.4h-7.4zM408.6,416.9h7.4v5.4h-7.4zM417.0,416.9h7.4v5.4h-7.4zM425.5,416.9h7.4v5.4h-7.4zM467.7,416.9h7.4v5.4h-7.4zM476.1,416.9h7.4v5.4h-7.4zM484.5,416.9h7.4v5.4h-7.4zM509.9,416.9h7.4v5.4h-7.4zM315.8,423.1h7.4v5.4h-7.4zM332.7,423.1h7.4v5.4h-7.4zM349.6,423.1h7.4v5.4h-7.4zM374.9,423.1h7.4v5.4h-7.4zM391.7,423.1h7.4v5.4h-7.4zM400.2,423.1h7.4v5.4h-7.4zM417.0,423.1h7.4v5.4h-7.4zM433.9,423.1h7.4v5.4h-7.4zM476.1,423.1h7.4v5.4h-7.4zM484.5,423.1h7.4v5.4h-7.4zM501.4,423.1h7.4v5.4h-7.4zM315.8,429.4h7.4v5.4h-7.4zM341.1,429.4h7.4v5.4h-7.4zM400.2,429.4h7.4v5.4h-7.4zM408.6,429.4h7.4v5.4h-7.4zM450.8,429.4h7.4v5.4h-7.4zM476.1,429.4h7.4v5.4h-7.4zM484.5,429.4h7.4v5.4h-7.4zM400.2,435.7h7.4v5.4h-7.4zM408.6,435.7h7.4v5.4h-7.4zM417.0,435.7h7.4v5.4h-7.4zM433.9,435.7h7.4v5.4h-7.4zM450.8,435.7h7.4v5.4h-7.4zM349.6,441.9h7.4v5.4h-7.4zM400.2,441.9h7.4v5.4h-7.4zM417.0,441.9h7.4v5.4h-7.4zM433.9,441.9h7.4v5.4h-7.4zM484.5,441.9h7.4v5.4h-7.4zM324.2,448.2h7.4v5.4h-7.4zM341.1,448.2h7.4v5.4h-7.4zM408.6,448.2h7.4v5.4h-7.4zM417.0,448.2h7.4v5.4h-7.4zM425.5,448.2h7.4v5.4h-7.4zM476.1,448.2h7.4v5.4h-7.4zM484.5,448.2h7.4v5.4h-7.4zM349.6,454.5h7.4v5.4h-7.4zM358.0,454.5h7.4v5.4h-7.4zM374.9,454.5h7.4v5.4h-7.4zM383.3,454.5h7.4v5.4h-7.4zM425.5,454.5h7.4v5.4h-7.4zM450.8,454.5h7.4v5.4h-7.4zM476.1,454.5h7.4v5.4h-7.4zM484.5,454.5h7.4v5.4h-7.4zM324.2,460.7h7.4v5.4h-7.4zM374.9,460.7h7.4v5.4h-7.4zM383.3,460.7h7.4v5.4h-7.4zM391.7,460.7h7.4v5.4h-7.4zM417.0,460.7h7.4v5.4h-7.4zM450.8,460.7h7.4v5.4h-7.4zM476.1,460.7h7.4v5.4h-7.4zM484.5,460.7h7.4v5.4h-7.4zM408.6,467.0h7.4v5.4h-7.4zM425.5,467.0h7.4v5.4h-7.4zM484.5,467.0h7.4v5.4h-7.4zM400.2,473.3h7.4v5.4h-7.4zM450.8,473.3h7.4v5.4h-7.4zM493.0,473.3h7.4v5.4h-7.4zM315.8,485.8h7.4v5.4h-7.4zM374.9,485.8h7.4v5.4h-7.4zM400.2,485.8h7.4v5.4h-7.4zM408.6,485.8h7.4v5.4h-7.4zM417.0,485.8h7.4v5.4h-7.4zM425.5,485.8h7.4v5.4h-7.4zM450.8,485.8h7.4v5.4h-7.4zM501.4,485.8h7.4v5.4h-7.4zM509.9,485.8h7.4v5.4h-7.4zM332.7,492.1h7.4v5.4h-7.4zM425.5,492.1h7.4v5.4h-7.4zM433.9,492.1h7.4v5.4h-7.4zM332.7,498.3h7.4v5.4h-7.4zM366.4,498.3h7.4v5.4h-7.4zM417.0,498.3h7.4v5.4h-7.4zM450.8,498.3h7.4v5.4h-7.4zM315.8,504.6h7.4v5.4h-7.4zM400.2,504.6h7.4v5.4h-7.4zM408.6,504.6h7.4v5.4h-7.4zM450.8,504.6h7.4v5.4h-7.4zM467.7,504.6h7.4v5.4h-7.4zM324.2,510.9h7.4v5.4h-7.4zM332.7,510.9h7.4v5.4h-7.4zM358.0,510.9h7.4v5.4h-7.4zM366.4,510.9h7.4v5.4h-7.4zM476.1,510.9h7.4v5.4h-7.4zM425.5,517.1h7.4v5.4h-7.4zM433.9,517.1h7.4v5.4h-7.4zM501.4,517.1h7.4v5.4h-7.4zM509.9,517.1h7.4v5.4h-7.4zM315.8,523.4h7.4v5.4h-7.4zM332.7,523.4h7.4v5.4h-7.4zM425.5,523.4h7.4v5.4h-7.4zM433.9,523.4h7.4v5.4h-7.4zM459.2,523.4h7.4v5.4h-7.4zM324.2,529.7h7.4v5.4h-7.4zM391.7,529.7h7.4v5.4h-7.4zM400.2,535.9h7.4v5.4h-7.4zM476.1,535.9h7.4v5.4h-7.4zM332.7,542.2h7.4v5.4h-7.4zM442.4,542.2h7.4v5.4h-7.4zM315.8,548.5h7.4v5.4h-7.4zM349.6,548.5h7.4v5.4h-7.4zM425.5,548.5h7.4v5.4h-7.4zM476.1,548.5h7.4v5.4h-7.4zM493.0,548.5h7.4v5.4h-7.4zM324.2,554.7h7.4v5.4h-7.4zM425.5,554.7h7.4v5.4h-7.4zM433.9,554.7h7.4v5.4h-7.4zM450.8,554.7h7.4v5.4h-7.4zM400.2,561.0h7.4v5.4h-7.4zM467.7,561.0h7.4v5.4h-7.4zM484.5,561.0h7.4v5.4h-7.4zM324.2,567.3h7.4v5.4h-7.4zM332.7,567.3h7.4v5.4h-7.4zM400.2,567.3h7.4v5.4h-7.4zM408.6,567.3h7.4v5.4h-7.4zM417.0,567.3h7.4v5.4h-7.4zM425.5,567.3h7.4v5.4h-7.4zM476.1,567.3h7.4v5.4h-7.4zM324.2,573.5h7.4v5.4h-7.4zM349.6,573.5h7.4v5.4h-7.4zM408.6,573.5h7.4v5.4h-7.4zM484.5,573.5h7.4v5.4h-7.4zM476.1,579.8h7.4v5.4h-7.4zM509.9,579.8h7.4v5.4h-7.4zM349.6,586.1h7.4v5.4h-7.4zM476.1,586.1h7.4v5.4h-7.4zM501.4,586.1h7.4v5.4h-7.4zM230.3,594.4h7.4v5.3h-7.4zM238.7,594.4h7.4v5.3h-7.4zM425.5,594.4h7.4v5.3h-7.4zM205.2,600.6h7.4v5.3h-7.4zM213.5,600.6h7.4v5.3h-7.4zM272.1,600.6h7.4v5.3h-7.4zM324.2,600.6h7.4v5.3h-7.4zM366.4,600.6h7.4v5.3h-7.4zM196.8,606.8h7.4v5.3h-7.4zM213.5,606.8h7.4v5.3h-7.4zM247.0,606.8h7.4v5.3h-7.4zM297.3,606.8h7.4v5.3h-7.4zM305.6,606.8h7.4v5.3h-7.4zM417.0,606.8h7.4v5.3h-7.4zM196.8,613.0h7.4v5.3h-7.4zM213.5,613.0h7.4v5.3h-7.4zM263.8,613.0h7.4v5.3h-7.4zM288.9,613.0h7.4v5.3h-7.4zM297.3,613.0h7.4v5.3h-7.4zM417.0,613.0h7.4v5.3h-7.4zM205.2,619.1h7.4v5.3h-7.4zM213.5,619.1h7.4v5.3h-7.4zM238.7,619.1h7.4v5.3h-7.4zM255.4,619.1h7.4v5.3h-7.4zM263.8,619.1h7.4v5.3h-7.4zM272.1,619.1h7.4v5.3h-7.4zM442.4,619.1h7.4v5.3h-7.4zM476.1,619.1h7.4v5.3h-7.4zM196.8,625.3h7.4v5.3h-7.4zM213.5,625.3h7.4v5.3h-7.4zM230.3,625.3h7.4v5.3h-7.4zM238.7,625.3h7.4v5.3h-7.4zM288.9,625.3h7.4v5.3h-7.4zM297.3,625.3h7.4v5.3h-7.4zM305.6,625.3h7.4v5.3h-7.4zM391.7,625.3h7.4v5.3h-7.4zM408.6,625.3h7.4v5.3h-7.4zM205.2,631.5h7.4v5.3h-7.4zM213.5,631.5h7.4v5.3h-7.4zM288.9,631.5h7.4v5.3h-7.4zM315.8,631.5h7.4v5.3h-7.4zM238.7,637.7h7.4v5.3h-7.4zM247.0,637.7h7.4v5.3h-7.4zM255.4,637.7h7.4v5.3h-7.4zM272.1,637.7h7.4v5.3h-7.4zM297.3,637.7h7.4v5.3h-7.4zM305.6,637.7h7.4v5.3h-7.4zM230.3,643.9h7.4v5.3h-7.4zM238.7,643.9h7.4v5.3h-7.4zM272.1,643.9h7.4v5.3h-7.4zM288.9,643.9h7.4v5.3h-7.4zM230.3,650.0h7.4v5.3h-7.4zM238.7,650.0h7.4v5.3h-7.4zM263.8,650.0h7.4v5.3h-7.4zM272.1,650.0h7.4v5.3h-7.4zM297.3,650.0h7.4v5.3h-7.4z"/><path fill="#0ea614" d="M484.5,34.6h7.4v5.4h-7.4zM509.9,34.6h7.4v5.4h-7.4zM417.0,40.9h7.4v5.4h-7.4zM467.7,40.9h7.4v5.4h-7.4zM493.0,40.9h7.4v5.4h-7.4zM509.9,40.9h7.4v5.4h-7.4zM408.6,47.2h7.4v5.4h-7.4zM417.0,47.2h7.4v5.4h-7.4zM442.4,47.2h7.4v5.4h-7.4zM459.2,47.2h7.4v5.4h-7.4zM501.4,47.2h7.4v5.4h-7.4zM509.9,47.2h7.4v5.4h-7.4zM425.5,53.4h7.4v5.4h-7.4zM433.9,53.4h7.4v5.4h-7.4zM484.5,53.4h7.4v5.4h-7.4zM509.9,53.4h7.4v5.4h-7.4zM425.5,59.7h7.4v5.4h-7.4zM433.9,59.7h7.4v5.4h-7.4zM442.4,59.7h7.4v5.4h-7.4zM467.7,59.7h7.4v5.4h-7.4zM484.5,59.7h7.4v5.4h-7.4zM501.4,59.7h7.4v5.4h-7.4zM509.9,59.7h7.4v5.4h-7.4zM400.2,66.0h7.4v5.4h-7.4zM425.5,66.0h7.4v5.4h-7.4zM433.9,66.0h7.4v5.4h-7.4zM484.5,66.0h7.4v5.4h-7.4zM408.6,72.2h7.4v5.4h-7.4zM433.9,72.2h7.4v5.4h-7.4zM467.7,72.2h7.4v5.4h-7.4zM484.5,72.2h7.4v5.4h-7.4zM501.4,72.2h7.4v5.4h-7.4zM509.9,72.2h7.4v5.4h-7.4zM400.2,84.8h7.4v5.4h-7.4zM417.0,84.8h7.4v5.4h-7.4zM433.9,84.8h7.4v5.4h-7.4zM467.7,84.8h7.4v5.4h-7.4zM484.5,84.8h7.4v5.4h-7.4zM501.4,84.8h7.4v5.4h-7.4zM509.9,84.8h7.4v5.4h-7.4zM484.5,91.0h7.4v5.4h-7.4zM433.9,103.5h7.4v5.4h-7.4zM493.0,103.5h7.4v5.4h-7.4zM501.4,103.5h7.4v5.4h-7.4zM509.9,103.5h7.4v5.4h-7.4zM400.2,109.8h7.4v5.4h-7.4zM425.5,109.8h7.4v5.4h-7.4zM467.7,109.8h7.4v5.4h-7.4zM501.4,109.8h7.4v5.4h-7.4zM509.9,109.8h7.4v5.4h-7.4zM433.9,116.1h7.4v5.4h-7.4zM467.7,116.1h7.4v5.4h-7.4zM484.5,116.1h7.4v5.4h-7.4zM501.4,116.1h7.4v5.4h-7.4zM433.9,122.3h7.4v5.4h-7.4zM501.4,122.3h7.4v5.4h-7.4zM433.9,134.9h7.4v5.4h-7.4zM467.7,134.9h7.4v5.4h-7.4zM501.4,134.9h7.4v5.4h-7.4zM433.9,141.1h7.4v5.4h-7.4zM484.5,141.1h7.4v5.4h-7.4zM501.4,141.1h7.4v5.4h-7.4zM509.9,141.1h7.4v5.4h-7.4zM400.2,159.9h7.4v5.4h-7.4zM425.5,159.9h7.4v5.4h-7.4zM433.9,159.9h7.4v5.4h-7.4zM501.4,159.9h7.4v5.4h-7.4zM433.9,172.5h7.4v5.4h-7.4zM484.5,172.5h7.4v5.4h-7.4zM501.4,172.5h7.4v5.4h-7.4zM509.9,172.5h7.4v5.4h-7.4zM433.9,178.7h7.4v5.4h-7.4zM433.9,185.0h7.4v5.4h-7.4zM433.9,191.3h7.4v5.4h-7.4zM501.4,191.3h7.4v5.4h-7.4zM509.9,191.3h7.4v5.4h-7.4zM433.9,197.5h7.4v5.4h-7.4zM476.1,197.5h7.4v5.4h-7.4zM433.9,203.8h7.4v5.4h-7.4zM501.4,203.8h7.4v5.4h-7.4zM509.9,203.8h7.4v5.4h-7.4zM476.1,222.6h7.4v5.4h-7.4zM450.8,228.9h7.4v5.4h-7.4zM459.2,235.1h7.4v5.4h-7.4zM467.7,235.1h7.4v5.4h-7.4zM366.4,241.4h7.4v5.4h-7.4zM341.1,247.7h7.4v5.4h-7.4zM476.1,247.7h7.4v5.4h-7.4zM332.7,253.9h7.4v5.4h-7.4zM349.6,253.9h7.4v5.4h-7.4zM417.0,253.9h7.4v5.4h-7.4zM433.9,253.9h7.4v5.4h-7.4zM332.7,260.2h7.4v5.4h-7.4zM467.7,260.2h7.4v5.4h-7.4zM493.0,260.2h7.4v5.4h-7.4zM349.6,266.5h7.4v5.4h-7.4zM425.5,266.5h7.4v5.4h-7.4zM324.2,272.7h7.4v5.4h-7.4zM374.9,272.7h7.4v5.4h-7.4zM391.7,272.7h7.4v5.4h-7.4zM408.6,272.7h7.4v5.4h-7.4zM450.8,272.7h7.4v5.4h-7.4zM467.7,272.7h7.4v5.4h-7.4zM484.5,272.7h7.4v5.4h-7.4zM509.9,272.7h7.4v5.4h-7.4zM315.8,279.0h7.4v5.4h-7.4zM366.4,279.0h7.4v5.4h-7.4zM391.7,279.0h7.4v5.4h-7.4zM417.0,279.0h7.4v5.4h-7.4zM425.5,279.0h7.4v5.4h-7.4zM484.5,279.0h7.4v5.4h-7.4zM501.4,279.0h7.4v5.4h-7.4zM315.8,285.3h7.4v5.4h-7.4zM324.2,285.3h7.4v5.4h-7.4zM391.7,285.3h7.4v5.4h-7.4zM417.0,285.3h7.4v5.4h-7.4zM467.7,285.3h7.4v5.4h-7.4zM484.5,285.3h7.4v5.4h-7.4zM315.8,291.5h7.4v5.4h-7.4zM484.5,291.5h7.4v5.4h-7.4zM509.9,291.5h7.4v5.4h-7.4zM315.8,297.8h7.4v5.4h-7.4zM324.2,297.8h7.4v5.4h-7.4zM332.7,297.8h7.4v5.4h-7.4zM341.1,297.8h7.4v5.4h-7.4zM366.4,297.8h7.4v5.4h-7.4zM433.9,304.1h7.4v5.4h-7.4zM383.3,310.3h7.4v5.4h-7.4zM391.7,310.3h7.4v5.4h-7.4zM450.8,310.3h7.4v5.4h-7.4zM484.5,310.3h7.4v5.4h-7.4zM493.0,310.3h7.4v5.4h-7.4zM315.8,316.6h7.4v5.4h-7.4zM433.9,316.6h7.4v5.4h-7.4zM332.7,322.9h7.4v5.4h-7.4zM442.4,322.9h7.4v5.4h-7.4zM332.7,329.1h7.4v5.4h-7.4zM374.9,329.1h7.4v5.4h-7.4zM383.3,329.1h7.4v5.4h-7.4zM332.7,335.4h7.4v5.4h-7.4zM433.9,335.4h7.4v5.4h-7.4zM476.1,335.4h7.4v5.4h-7.4zM501.4,335.4h7.4v5.4h-7.4zM324.2,341.7h7.4v5.4h-7.4zM391.7,341.7h7.4v5.4h-7.4zM433.9,341.7h7.4v5.4h-7.4zM484.5,341.7h7.4v5.4h-7.4zM493.0,341.7h7.4v5.4h-7.4zM383.3,354.2h7.4v5.4h-7.4zM484.5,354.2h7.4v5.4h-7.4zM493.0,354.2h7.4v5.4h-7.4zM315.8,360.5h7.4v5.4h-7.4zM425.5,360.5h7.4v5.4h-7.4zM442.4,360.5h7.4v5.4h-7.4zM383.3,366.7h7.4v5.4h-7.4zM493.0,366.7h7.4v5.4h-7.4zM509.9,366.7h7.4v5.4h-7.4zM324.2,373.0h7.4v5.4h-7.4zM442.4,373.0h7.4v5.4h-7.4zM459.2,373.0h7.4v5.4h-7.4zM501.4,373.0h7.4v5.4h-7.4zM324.2,379.3h7.4v5.4h-7.4zM349.6,379.3h7.4v5.4h-7.4zM459.2,379.3h7.4v5.4h-7.4zM501.4,379.3h7.4v5.4h-7.4zM509.9,379.3h7.4v5.4h-7.4zM417.0,391.8h7.4v5.4h-7.4zM467.7,391.8h7.4v5.4h-7.4zM509.9,391.8h7.4v5.4h-7.4zM332.7,398.1h7.4v5.4h-7.4zM374.9,398.1h7.4v5.4h-7.4zM433.9,398.1h7.4v5.4h-7.4zM484.5,398.1h7.4v5.4h-7.4zM509.9,398.1h7.4v5.4h-7.4zM433.9,404.3h7.4v5.4h-7.4zM501.4,404.3h7.4v5.4h-7.4zM374.9,410.6h7.4v5.4h-7.4zM450.8,410.6h7.4v5.4h-7.4zM467.7,410.6h7.4v5.4h-7.4zM501.4,410.6h7.4v5.4h-7.4zM509.9,410.6h7.4v5.4h-7.4zM501.4,416.9h7.4v5.4h-7.4zM450.8,423.1h7.4v5.4h-7.4zM324.2,429.4h7.4v5.4h-7.4zM324.2,435.7h7.4v5.4h-7.4zM425.5,435.7h7.4v5.4h-7.4zM442.4,435.7h7.4v5.4h-7.4zM459.2,435.7h7.4v5.4h-7.4zM484.5,435.7h7.4v5.4h-7.4zM501.4,435.7h7.4v5.4h-7.4zM509.9,435.7h7.4v5.4h-7.4zM324.2,441.9h7.4v5.4h-7.4zM341.1,441.9h7.4v5.4h-7.4zM425.5,441.9h7.4v5.4h-7.4zM433.9,448.2h7.4v5.4h-7.4zM501.4,448.2h7.4v5.4h-7.4zM509.9,448.2h7.4v5.4h-7.4zM467.7,454.5h7.4v5.4h-7.4zM493.0,454.5h7.4v5.4h-7.4zM315.8,460.7h7.4v5.4h-7.4zM341.1,460.7h7.4v5.4h-7.4zM358.0,460.7h7.4v5.4h-7.4zM467.7,460.7h7.4v5.4h-7.4zM341.1,467.0h7.4v5.4h-7.4zM417.0,467.0h7.4v5.4h-7.4zM315.8,473.3h7.4v5.4h-7.4zM324.2,473.3h7.4v5.4h-7.4zM332.7,473.3h7.4v5.4h-7.4zM349.6,473.3h7.4v5.4h-7.4zM383.3,473.3h7.4v5.4h-7.4zM391.7,473.3h7.4v5.4h-7.4zM349.6,479.5h7.4v5.4h-7.4zM408.6,498.3h7.4v5.4h-7.4zM341.1,504.6h7.4v5.4h-7.4zM476.1,504.6h7.4v5.4h-7.4zM484.5,504.6h7.4v5.4h-7.4zM315.8,510.9h7.4v5.4h-7.4zM341.1,510.9h7.4v5.4h-7.4zM349.6,510.9h7.4v5.4h-7.4zM341.1,529.7h7.4v5.4h-7.4zM349.6,529.7h7.4v5.4h-7.4zM400.2,529.7h7.4v5.4h-7.4zM476.1,529.7h7.4v5.4h-7.4zM484.5,529.7h7.4v5.4h-7.4zM391.7,535.9h7.4v5.4h-7.4zM417.0,535.9h7.4v5.4h-7.4zM315.8,542.2h7.4v5.4h-7.4zM476.1,542.2h7.4v5.4h-7.4zM324.2,548.5h7.4v5.4h-7.4zM332.7,548.5h7.4v5.4h-7.4zM341.1,548.5h7.4v5.4h-7.4zM400.2,548.5h7.4v5.4h-7.4zM501.4,548.5h7.4v5.4h-7.4zM509.9,548.5h7.4v5.4h-7.4zM315.8,554.7h7.4v5.4h-7.4zM476.1,554.7h7.4v5.4h-7.4zM358.0,561.0h7.4v5.4h-7.4zM366.4,561.0h7.4v5.4h-7.4zM433.9,567.3h7.4v5.4h-7.4zM501.4,567.3h7.4v5.4h-7.4zM509.9,567.3h7.4v5.4h-7.4zM315.8,573.5h7.4v5.4h-7.4zM509.9,573.5h7.4v5.4h-7.4zM315.8,579.8h7.4v5.4h-7.4zM349.6,579.8h7.4v5.4h-7.4zM315.8,586.1h7.4v5.4h-7.4zM459.2,586.1h7.4v5.4h-7.4zM509.9,586.1h7.4v5.4h-7.4zM205.2,594.4h7.4v5.3h-7.4zM213.5,594.4h7.4v5.3h-7.4zM255.4,594.4h7.4v5.3h-7.4zM263.8,594.4h7.4v5.3h-7.4zM349.6,594.4h7.4v5.3h-7.4zM196.8,600.6h7.4v5.3h-7.4zM230.3,600.6h7.4v5.3h-7.4zM263.8,600.6h7.4v5.3h-7.4zM315.8,600.6h7.4v5.3h-7.4zM238.7,606.8h7.4v5.3h-7.4zM255.4,606.8h7.4v5.3h-7.4zM263.8,606.8h7.4v5.3h-7.4zM221.9,613.0h7.4v5.3h-7.4zM230.3,613.0h7.4v5.3h-7.4zM238.7,613.0h7.4v5.3h-7.4zM255.4,613.0h7.4v5.3h-7.4zM221.9,619.1h7.4v5.3h-7.4zM324.2,619.1h7.4v5.3h-7.4zM425.5,619.1h7.4v5.3h-7.4zM247.0,625.3h7.4v5.3h-7.4zM255.4,625.3h7.4v5.3h-7.4zM263.8,625.3h7.4v5.3h-7.4zM221.9,631.5h7.4v5.3h-7.4zM255.4,631.5h7.4v5.3h-7.4zM263.8,631.5h7.4v5.3h-7.4zM349.6,631.5h7.4v5.3h-7.4zM196.8,637.7h7.4v5.3h-7.4zM213.5,637.7h7.4v5.3h-7.4zM263.8,637.7h7.4v5.3h-7.4zM205.2,643.9h7.4v5.3h-7.4zM213.5,643.9h7.4v5.3h-7.4zM247.0,643.9h7.4v5.3h-7.4zM255.4,643.9h7.4v5.3h-7.4zM263.8,643.9h7.4v5.3h-7.4zM349.6,643.9h7.4v5.3h-7.4zM205.2,650.0h7.4v5.3h-7.4zM213.5,650.0h7.4v5.3h-7.4zM247.0,650.0h7.4v5.3h-7.4zM255.4,650.0h7.4v5.3h-7.4zM349.6,650.0h7.4v5.3h-7.4z"/></g><rect x="194.3" y="32.2" width="2.3" height="624.2" fill="#fff21a"/><rect x="313.3" y="32.2" width="2.3" height="624.2" fill="#fff21a"/><rect x="160.4" y="591.8" width="357.8" height="2.3" fill="#fff21a"/><line x1="47.5" y1="36.5" x2="71" y2="36.5" stroke="#e8141c" stroke-width="1.3"/><path d="M75.2,36.5l-6.4,-3v6z" fill="#e8141c"/><path fill="none" stroke="#e8141c" stroke-width="1.8" stroke-linecap="round" d="M48.6,49C51.5,49 51.5,49 51.5,52L51.5,59.5C51.5,62.5 51.5,62.5 54.9,62.5C51.5,62.5 51.5,62.5 51.5,65.5L51.5,70.5C51.5,73.5 51.5,73.5 48.6,73.5"/><line x1="57.5" y1="62.5" x2="71" y2="62.5" stroke="#e8141c" stroke-width="1.3"/><path d="M75.2,62.5l-6.4,-3v6z" fill="#e8141c"/><path fill="none" stroke="#e8141c" stroke-width="1.8" stroke-linecap="round" d="M48.6,101.5C51.5,101.5 51.5,101.5 51.5,104.5L51.5,110C51.5,113 51.5,113 54.9,113C51.5,113 51.5,113 51.5,116L51.5,124C51.5,127 51.5,127 48.6,127"/><line x1="58" y1="113" x2="71" y2="113" stroke="#e8141c" stroke-width="1.3"/><path d="M75.2,113l-6.4,-3v6z" fill="#e8141c"/><line x1="51" y1="187.5" x2="71" y2="187.5" stroke="#e8141c" stroke-width="1.3"/><path d="M75.2,187.5l-6.4,-3v6z" fill="#e8141c"/><line x1="51" y1="234.5" x2="71" y2="234.5" stroke="#e8141c" stroke-width="1.3"/><path d="M75.2,234.5l-6.4,-3v6z" fill="#e8141c"/><line x1="50" y1="297.5" x2="71" y2="297.5" stroke="#e8141c" stroke-width="1.3"/><path d="M75.2,297.5l-6.4,-3v6z" fill="#e8141c"/><path fill="none" stroke="#e8141c" stroke-width="1.8" stroke-linecap="round" d="M48.6,609C51.5,609 51.5,609 51.5,612L51.5,617.5C51.5,620.5 51.5,620.5 54.9,620.5C51.5,620.5 51.5,620.5 51.5,623.5L51.5,632C51.5,635 51.5,635 48.6,635"/><line x1="57" y1="620.5" x2="71" y2="620.5" stroke="#e8141c" stroke-width="1.3"/><path d="M75.2,620.5l-6.4,-3v6z" fill="#e8141c"/><path fill="none" stroke="#e8141c" stroke-width="1.8" stroke-linecap="round" d="M48.6,639C51.5,639 51.5,639 51.5,642L51.5,648.3C51.5,651.3 51.5,651.3 54.9,651.3C51.5,651.3 51.5,651.3 51.5,654.3L51.5,662.5C51.5,665.5 51.5,665.5 48.6,665.5"/><line x1="57" y1="651.3" x2="71" y2="651.3" stroke="#e8141c" stroke-width="1.3"/><path d="M75.2,651.3l-6.4,-3v6z" fill="#e8141c"/><path d="M507.5,677.5V693.5M505.9,681.5L507.5,677.2L509.1,681.5" fill="none" stroke="#111" stroke-width="0.9"/><path d="M507.5,743.8V760.6M505.9,756.6L507.5,760.9L509.1,756.6" fill="none" stroke="#111" stroke-width="0.9"/></svg>
<div class="l" style="top:33.50px">hsa-miR-221</div><div class="l" style="top:39.78px">hsa-miR-621</div><div class="l" style="top:46.06px">hsa-miR-555</div><div class="l" style="top:52.35px">hsa-miR-29c</div><div class="l" style="top:58.63px">hsa-miR-625</div><div class="l" style="top:64.91px">hsa-miR-100</div><div class="l" style="top:71.19px">hsa-miR-10b</div><div class="l" style="top:77.47px">hsa-miR-9*</div><div class="l" style="top:83.75px">hsa-miR-99a</div><div class="l" style="top:90.04px">hsa-miR-126</div><div class="l" style="top:96.32px">hsa-miR-126*</div><div class="l" style="top:102.60px">hsa-miR-223</div><div class="l" style="top:108.88px">hsa-let-7g</div><div class="l" style="top:115.16px">hsa-let-7f</div><div class="l" style="top:121.45px">hsa-miR-16</div><div class="l" style="top:127.73px">hsa-miR-30c</div><div class="l" style="top:134.01px">hsa-miR-98</div><div class="l" style="top:140.29px">hsa-miR-25</div><div class="l" style="top:146.57px">hsa-miR-324-3p</div><div class="l" style="top:152.85px">hsa-miR-26b</div><div class="l" style="top:159.14px">hsa-miR-95</div><div class="l" style="top:165.42px">hsa-miR-345</div><div class="l" style="top:171.70px">hsa-miR-199a*</div><div class="l" style="top:177.98px">hsa-miR-192</div><div class="l" style="top:184.26px">hsa-miR-34a</div><div class="l" style="top:190.54px">hsa-let-7d</div><div class="l" style="top:196.83px">hsa-miR-17-5p</div><div class="l" style="top:203.11px">hsa-miR-195</div><div class="l" style="top:209.39px">hsa-miR-215</div><div class="l" style="top:215.67px">hsa-miR-20a</div><div class="l" style="top:221.95px">hsa-miR-487b</div><div class="l" style="top:228.24px">hsa-miR-202</div><div class="l" style="top:234.52px">hsa-miR-202*</div><div class="l" style="top:240.80px">hsa-miR-212</div><div class="l" style="top:247.08px">hsa-miR-93</div><div class="l" style="top:253.36px">hsa-miR-155</div><div class="l" style="top:259.64px">hsa-miR-147</div><div class="l" style="top:265.93px">hsa-miR-564</div><div class="l" style="top:272.21px">hsa-miR-124a</div><div class="l" style="top:278.49px">hsa-miR-518e</div><div class="l" style="top:284.77px">hsa-miR-769-3p</div><div class="l" style="top:291.05px">hsa-miR-222</div><div class="l" style="top:297.34px">hsa-miR-191</div><div class="l" style="top:303.62px">hsa-miR-191*</div><div class="l" style="top:309.90px">hsa-miR-644</div><div class="l" style="top:316.18px">hsa-miR-20b</div><div class="l" style="top:322.46px">hsa-miR-182</div><div class="l" style="top:328.74px">hsa-miR-182*</div><div class="l" style="top:335.03px">hsa-miR-15b</div><div class="l" style="top:341.31px">hsa-miR-409-3p</div><div class="l" style="top:347.59px">hsa-miR-19b</div><div class="l" style="top:353.87px">hsa-miR-523</div><div class="l" style="top:360.15px">hsa-miR-33</div><div class="l" style="top:366.44px">hsa-miR-31</div><div class="l" style="top:372.72px">hsa-miR-214</div><div class="l" style="top:379.00px">hsa-miR-24</div><div class="l" style="top:385.28px">hsa-miR-101</div><div class="l" style="top:391.56px">hsa-miR-504</div><div class="l" style="top:397.84px">hsa-miR-515-5p</div><div class="l" style="top:404.13px">hsa-miR-107</div><div class="l" style="top:410.41px">hsa-miR-767-3p</div><div class="l" style="top:416.69px">hsa-let-7a</div><div class="l" style="top:422.97px">hsa-miR-539</div><div class="l" style="top:429.25px">hsa-miR-518f*</div><div class="l" style="top:435.54px">hsa-miR-193a</div><div class="l" style="top:441.82px">hsa-miR-145</div><div class="l" style="top:448.10px">hsa-miR-143</div><div class="l" style="top:454.38px">hsa-miR-487a</div><div class="l" style="top:460.66px">hsa-miR-200a*</div><div class="l" style="top:466.94px">hsa-miR-526b</div><div class="l" style="top:473.23px">hsa-miR-526b*</div><div class="l" style="top:479.51px">hsa-miR-452</div><div class="l" style="top:485.79px">hsa-miR-452*</div><div class="l" style="top:492.07px">hsa-miR-29b</div><div class="l" style="top:498.35px">hsa-miR-520e</div><div class="l" style="top:504.63px">hsa-miR-498</div><div class="l" style="top:510.92px">hsa-miR-770-5p</div><div class="l" style="top:517.20px">hsa-miR-146a</div><div class="l" style="top:523.48px">hsa-miR-142-5p</div><div class="l" style="top:529.76px">hsa-miR-136</div><div class="l" style="top:536.04px">hsa-miR-134</div><div class="l" style="top:542.33px">hsa-miR-181b</div><div class="l" style="top:548.61px">hsa-miR-103</div><div class="l" style="top:554.89px">hsa-miR-210</div><div class="l" style="top:561.17px">hsa-miR-610</div><div class="l" style="top:567.45px">hsa-miR-130a</div><div class="l" style="top:573.73px">hsa-miR-30d</div><div class="l" style="top:580.02px">hsa-miR-181a</div><div class="l" style="top:586.30px">hsa-miR-181a*</div><div class="l" style="top:593.30px">hsa-miR-662</div><div class="l" style="top:599.48px">hsa-miR-512-3p</div><div class="l" style="top:605.66px">hsa-miR-198</div><div class="l" style="top:611.84px">hsa-miR-765</div><div class="l" style="top:618.02px">hsa-miR-138</div><div class="l" style="top:624.20px">hsa-miR-370</div><div class="l" style="top:630.38px">hsa-miR-801</div><div class="l" style="top:636.56px">hsa-miR-617</div><div class="l" style="top:642.74px">hsa-miR-513</div><div class="l" style="top:648.92px">hsa-miR-494</div>
<div class="it" style="top:29.75px;left:3.45px">miR-221</div><div class="it" style="top:46.00px;left:2.70px">miR-29c</div><div class="it" style="top:59.00px;left:2.90px">miR-625</div><div class="it" style="top:99.50px;left:22.70px">let-7f</div><div class="it" style="top:112.75px;left:5.20px">miR-223</div><div class="it" style="top:181.00px;left:5.95px">miR-34a</div><div class="it" style="top:227.75px;left:5.95px">miR-202</div><div class="it" style="top:291.00px;left:5.95px">miR-222</div><div class="it" style="top:607.75px;left:5.20px">miR-765</div><div class="it" style="top:621.00px;left:5.20px">miR-370</div><div class="it" style="top:638.50px;left:5.20px">miR-513</div><div class="it" style="top:651.50px;left:5.20px">miR-494</div>
<div class="lg"></div>
<div class="lt" style="left:441.2px;top:667.3px">Expression</div>
<div style="position:absolute;left:440.3px;top:676.6px;width:17.7px;height:84.7px;background:#1a1010"></div>
<div class="sw" style="top:677.1px;background:#fb0a0a"></div>
<div class="sw" style="top:693.85px;background:#8e0608"></div>
<div class="sw" style="top:710.6px;background:#0c040a"></div>
<div class="sw" style="top:727.35px;background:#068408"></div>
<div class="sw" style="top:744.1px;background:#1efa22"></div>
<div class="lt" style="left:464.2px;top:682.5px">2.0</div>
<div class="lt" style="left:464.2px;top:699.2px">1.0</div>
<div class="lt" style="left:464.2px;top:716.1px">0.0</div>
<div class="lt" style="left:461.4px;top:733px">-1.0</div>
<div class="lt" style="left:461.4px;top:750px">-2.0</div>
</body></html>
